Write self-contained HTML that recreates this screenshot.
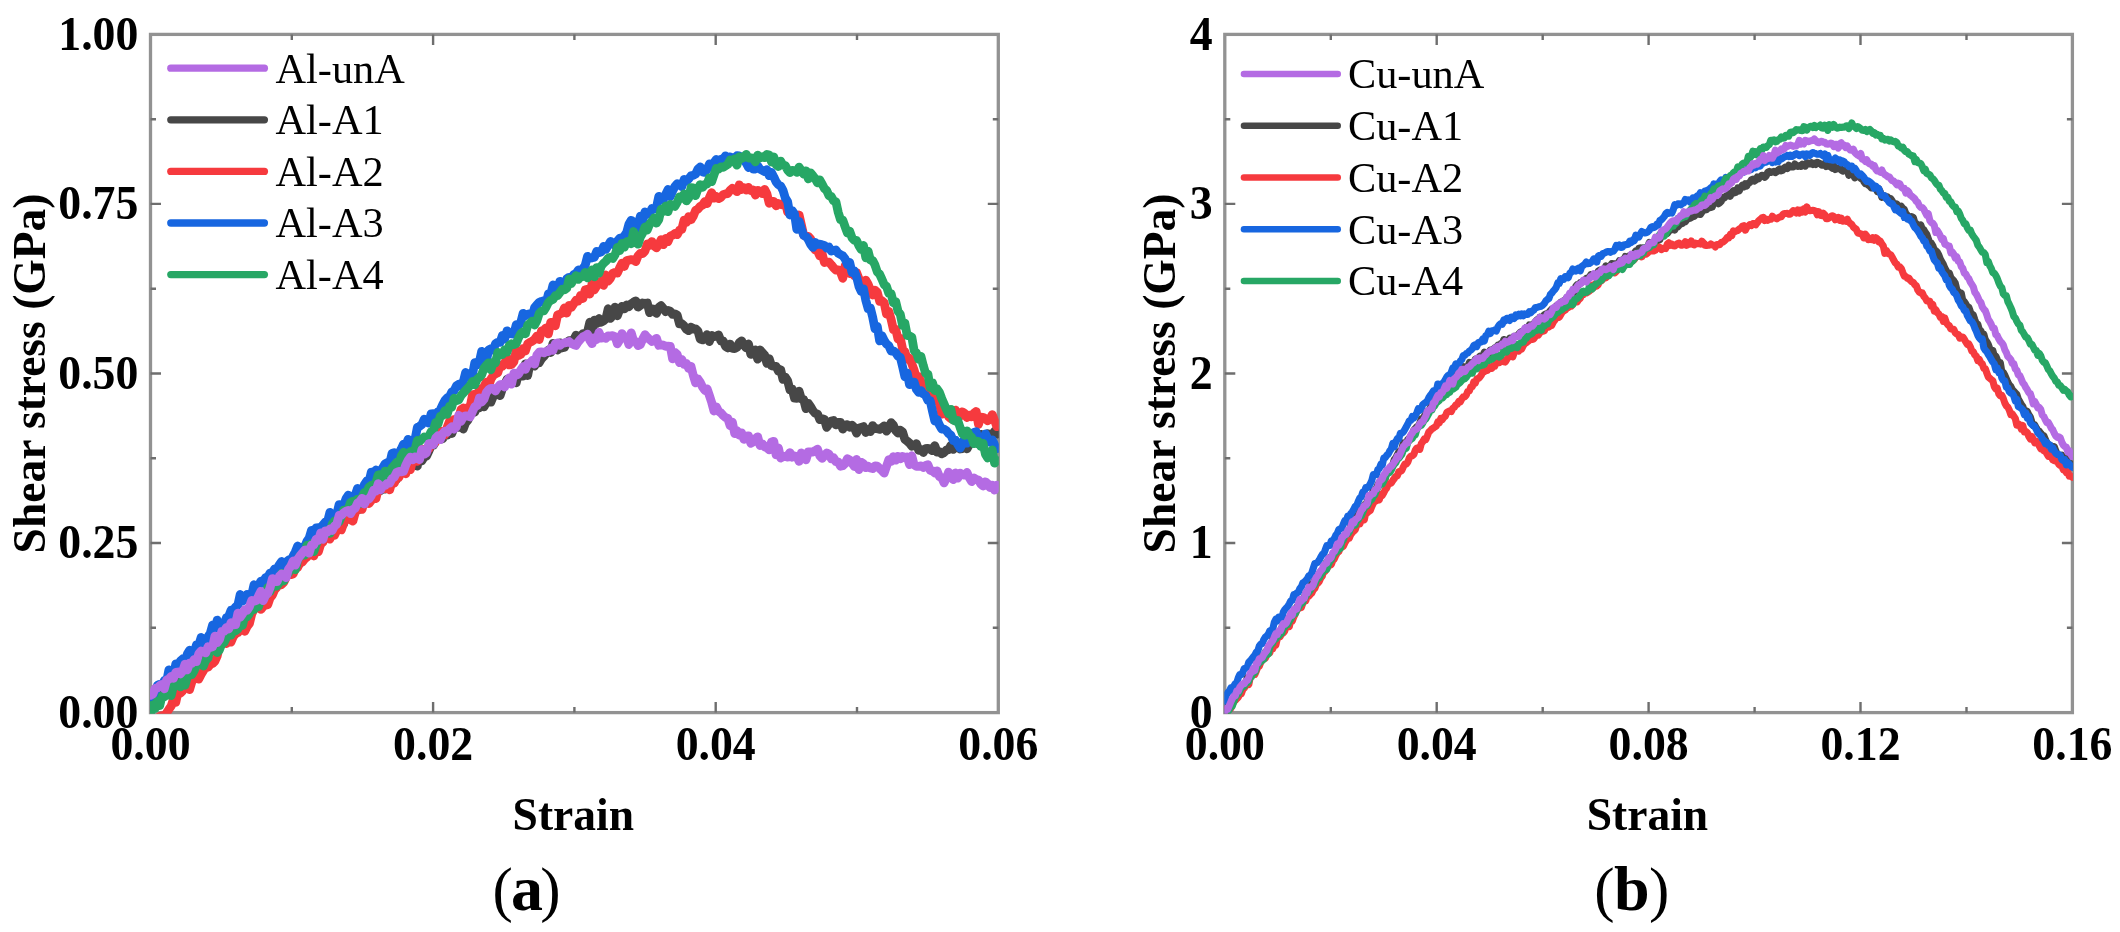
<!DOCTYPE html>
<html lang="en">
<head>
<meta charset="utf-8">
<title>Shear stress-strain curves</title>
<style>
html,body{margin:0;padding:0;background:#fff;}
body{width:2120px;height:932px;overflow:hidden;}
svg{display:block;filter:blur(0.55px);}
text{font-family:"Liberation Serif","Times New Roman",Times,serif;fill:#000;}
.tk text{font-size:45.5px;font-weight:bold;}
.tk text.n{font-size:48.9px;}
.lg text{font-size:42.3px;}
.cap text{font-size:64px;}
.cap .p{font-size:61px;}
</style>
</head>
<body>
<svg width="2120" height="932" viewBox="0 0 2120 932">
<rect width="2120" height="932" fill="#fff"/>
<clipPath id="clip1"><rect x="150.0" y="33.9" width="848.8" height="679.8"/></clipPath>
<rect x="150.5" y="34.4" width="847.8" height="678.2" fill="#fff" stroke="#929292" stroke-width="3.3"/>
<path d="M291.8,712.6v-5.5M291.8,34.4v5.5M433.1,712.6v-10.5M433.1,34.4v10.5M574.4,712.6v-5.5M574.4,34.4v5.5M715.7,712.6v-10.5M715.7,34.4v10.5M857.0,712.6v-5.5M857.0,34.4v5.5M150.5,627.8h5.5M998.3,627.8h-5.5M150.5,543.0h10.5M998.3,543.0h-10.5M150.5,458.3h5.5M998.3,458.3h-5.5M150.5,373.5h10.5M998.3,373.5h-10.5M150.5,288.7h5.5M998.3,288.7h-5.5M150.5,203.9h10.5M998.3,203.9h-10.5M150.5,119.2h5.5M998.3,119.2h-5.5" stroke="#6e6e6e" stroke-width="2.4" fill="none"/>
<g clip-path="url(#clip1)" fill="none" stroke-linejoin="round" stroke-linecap="round" stroke-width="8.8">
<path stroke="#474747" d="M150.5,694.4 152.8,697.3 155.1,697.2 157.4,694.5 159.7,687.9 162.0,691.9 164.3,689.6 166.6,687.1 168.9,685.6 171.2,684.8 173.5,685.6 175.8,674.7 178.1,675.5 180.4,678.7 182.7,668.2 185.0,670.1 187.3,664.9 189.6,664.9 191.9,663.7 194.2,655.2 196.5,656.0 198.8,652.0 201.1,654.1 203.4,650.3 205.7,655.9 208.0,647.5 210.3,652.1 212.6,644.6 214.9,644.5 217.2,641.7 219.5,638.9 221.8,633.5 224.1,635.7 226.4,633.7 228.7,630.9 231.0,629.6 233.3,622.7 235.6,621.7 237.9,619.1 240.2,614.0 242.5,617.2 244.8,612.2 247.1,611.4 249.4,616.4 251.7,608.3 254.0,606.0 256.3,606.5 258.6,603.9 260.9,603.9 263.2,595.0 265.5,599.2 267.8,591.6 270.1,586.1 272.4,584.3 274.7,587.7 277.0,584.2 279.3,583.4 281.6,574.5 283.9,573.9 286.2,569.7 288.5,564.4 290.8,568.1 293.1,571.0 295.4,566.8 297.7,559.2 300.0,563.4 302.3,556.6 304.6,556.8 306.9,555.5 309.2,549.5 311.5,546.4 313.8,549.3 316.1,545.2 318.4,541.5 320.7,542.6 323.0,537.6 325.3,537.6 327.6,532.0 329.9,536.0 332.2,528.5 334.5,528.4 336.8,521.6 339.1,529.6 341.4,524.7 343.7,523.9 346.0,514.9 348.3,518.3 350.6,513.6 352.9,516.4 355.2,505.4 357.5,509.9 359.8,509.2 362.1,500.1 364.4,501.2 366.7,496.0 369.0,497.3 371.3,497.1 373.6,498.0 375.9,492.9 378.2,488.2 380.5,490.6 382.8,487.3 385.1,489.1 387.4,482.5 389.7,486.6 392.0,481.4 394.3,479.2 396.6,479.3 398.9,473.2 401.2,471.7 403.5,472.4 405.8,469.2 408.1,467.5 410.4,464.6 412.7,462.4 415.0,464.5 417.3,466.1 419.6,454.0 421.9,460.8 424.2,457.0 426.5,456.1 428.8,451.1 431.1,445.8 433.4,445.3 435.7,441.1 438.0,436.8 440.3,439.4 442.6,438.7 444.9,435.3 447.2,435.2 449.5,427.6 451.8,433.5 454.1,427.9 456.4,426.6 458.7,427.3 461.0,421.9 463.3,429.0 465.6,422.8 467.9,420.1 470.2,414.9 472.5,410.5 474.8,412.1 477.1,406.8 479.4,407.7 481.7,406.0 484.0,406.8 486.3,402.6 488.6,400.4 490.9,402.2 493.2,396.5 495.5,393.8 497.8,391.9 500.1,395.6 502.4,388.7 504.7,385.0 507.0,379.4 509.3,380.5 511.6,382.9 513.9,380.9 516.2,382.9 518.5,374.0 520.8,375.8 523.1,376.2 525.4,363.8 527.7,375.5 530.0,363.1 532.3,361.6 534.6,366.0 536.9,362.2 539.2,362.7 541.5,358.8 543.8,356.5 546.1,353.6 548.4,350.0 550.7,352.5 553.0,343.4 555.3,348.7 557.6,350.0 559.9,342.8 562.2,347.9 564.5,347.2 566.8,342.5 569.1,340.6 571.4,340.9 573.7,339.7 576.0,335.2 578.3,340.2 580.6,337.2 582.9,333.6 585.2,333.6 587.5,332.0 589.8,322.2 592.1,333.3 594.4,320.2 596.7,323.6 599.0,318.5 601.3,322.1 603.6,320.9 605.9,318.7 608.2,308.7 610.5,318.4 612.8,315.4 615.1,307.2 617.4,315.8 619.7,309.5 622.0,306.4 624.3,308.9 626.6,305.0 628.9,306.7 631.2,303.9 633.5,302.2 635.8,300.9 638.1,307.1 640.4,305.5 642.7,303.0 645.0,303.3 647.3,303.0 649.6,312.7 651.9,308.7 654.2,309.2 656.5,313.4 658.8,307.3 661.1,305.7 663.4,308.6 665.7,311.7 668.0,310.5 670.3,311.2 672.6,314.4 674.9,313.9 677.2,315.2 679.5,323.9 681.8,323.7 684.1,325.8 686.4,329.3 688.7,330.7 691.0,327.1 693.3,329.1 695.6,328.8 697.9,330.9 700.2,339.1 702.5,339.9 704.8,337.8 707.1,334.7 709.4,341.5 711.7,335.4 714.0,336.6 716.3,336.2 718.6,335.0 720.9,340.9 723.2,341.0 725.5,346.4 727.8,348.0 730.1,344.1 732.4,348.3 734.7,348.5 737.0,347.4 739.3,342.7 741.6,340.8 743.9,345.1 746.2,347.8 748.5,344.0 750.8,354.4 753.1,352.7 755.4,350.0 757.7,359.2 760.0,349.9 762.3,352.6 764.6,355.0 766.9,363.3 769.2,358.7 771.5,365.8 773.8,366.0 776.1,366.3 778.4,371.2 780.7,369.7 783.0,379.4 785.3,377.1 787.6,380.6 789.9,389.6 792.2,389.1 794.5,398.2 796.8,398.3 799.1,391.1 801.4,399.1 803.7,399.6 806.0,408.7 808.3,403.4 810.6,406.5 812.9,410.7 815.2,413.3 817.5,413.9 819.8,419.6 822.1,418.6 824.4,419.4 826.7,427.4 829.0,424.0 831.3,421.0 833.6,420.5 835.9,424.8 838.2,422.5 840.5,422.4 842.8,429.1 845.1,425.0 847.4,424.6 849.7,427.2 852.0,425.3 854.3,427.5 856.6,433.1 858.9,428.2 861.2,427.4 863.5,426.6 865.8,432.5 868.1,429.8 870.4,431.6 872.7,425.6 875.0,428.6 877.3,428.7 879.6,429.4 881.9,427.7 884.2,425.8 886.5,431.1 888.8,428.0 891.1,422.6 893.4,425.2 895.7,430.6 898.0,433.2 900.3,430.2 902.6,432.0 904.9,439.5 907.2,441.1 909.5,443.1 911.8,446.3 914.1,445.8 916.4,443.7 918.7,450.3 921.0,449.4 923.3,452.5 925.6,448.7 927.9,448.3 930.2,449.2 932.5,450.7 934.8,445.7 937.1,452.1 939.4,451.6 941.7,453.8 944.0,452.7 946.3,450.1 948.6,449.6 950.9,445.4 953.2,449.4 955.5,446.6 957.8,445.5 960.1,449.0 962.4,448.6 964.7,443.9 967.0,448.8 969.3,444.6 971.6,443.5 973.9,439.5 976.2,439.1 978.5,444.0 980.8,434.3 983.1,443.0 985.4,437.8 987.7,433.6 990.0,439.0 992.3,434.6 994.6,431.3 996.9,434.1"/>
<path stroke="#f63a3e" d="M150.5,725.4 152.8,718.3 155.1,723.8 157.4,721.8 159.7,716.4 162.0,715.7 164.3,717.1 166.6,712.8 168.9,709.3 171.2,706.0 173.5,699.2 175.8,702.4 178.1,691.6 180.4,693.1 182.7,690.8 185.0,684.7 187.3,686.9 189.6,689.6 191.9,681.8 194.2,677.6 196.5,678.3 198.8,679.1 201.1,674.5 203.4,670.7 205.7,664.1 208.0,667.3 210.3,664.4 212.6,663.5 214.9,661.3 217.2,656.0 219.5,645.9 221.8,643.9 224.1,642.8 226.4,643.6 228.7,638.1 231.0,642.2 233.3,636.6 235.6,633.7 237.9,632.6 240.2,629.9 242.5,622.1 244.8,631.3 247.1,626.6 249.4,623.6 251.7,614.1 254.0,609.0 256.3,607.7 258.6,607.0 260.9,609.4 263.2,606.5 265.5,605.2 267.8,604.7 270.1,597.8 272.4,595.1 274.7,589.6 277.0,587.2 279.3,582.4 281.6,584.5 283.9,582.1 286.2,577.4 288.5,573.3 290.8,574.7 293.1,574.1 295.4,568.8 297.7,567.5 300.0,562.6 302.3,562.0 304.6,559.0 306.9,557.3 309.2,553.9 311.5,554.4 313.8,556.0 316.1,547.1 318.4,551.8 320.7,544.3 323.0,542.1 325.3,535.0 327.6,531.6 329.9,539.2 332.2,532.0 334.5,535.3 336.8,530.4 339.1,529.1 341.4,529.8 343.7,523.1 346.0,510.7 348.3,513.3 350.6,519.8 352.9,521.0 355.2,512.9 357.5,509.4 359.8,505.5 362.1,509.4 364.4,500.7 366.7,501.3 369.0,503.5 371.3,500.6 373.6,497.3 375.9,498.6 378.2,489.7 380.5,487.8 382.8,488.3 385.1,488.7 387.4,484.7 389.7,489.8 392.0,481.3 394.3,483.1 396.6,477.1 398.9,477.4 401.2,472.4 403.5,470.0 405.8,473.8 408.1,465.9 410.4,469.7 412.7,459.7 415.0,458.5 417.3,461.4 419.6,448.5 421.9,449.1 424.2,451.7 426.5,450.4 428.8,448.8 431.1,443.8 433.4,437.4 435.7,442.0 438.0,438.4 440.3,431.2 442.6,432.1 444.9,434.8 447.2,427.4 449.5,421.3 451.8,421.5 454.1,419.5 456.4,419.1 458.7,417.8 461.0,409.7 463.3,408.1 465.6,411.0 467.9,407.5 470.2,406.4 472.5,394.8 474.8,394.2 477.1,397.6 479.4,389.5 481.7,390.4 484.0,386.6 486.3,382.1 488.6,386.4 490.9,379.1 493.2,375.5 495.5,373.9 497.8,372.8 500.1,365.2 502.4,366.3 504.7,363.0 507.0,357.8 509.3,364.9 511.6,364.4 513.9,361.6 516.2,350.5 518.5,355.5 520.8,354.4 523.1,348.5 525.4,351.0 527.7,343.9 530.0,342.2 532.3,341.2 534.6,339.3 536.9,336.1 539.2,339.5 541.5,331.0 543.8,330.3 546.1,327.8 548.4,333.9 550.7,322.3 553.0,323.8 555.3,325.8 557.6,314.9 559.9,314.1 562.2,313.0 564.5,307.9 566.8,313.1 569.1,305.5 571.4,307.4 573.7,303.9 576.0,300.2 578.3,300.9 580.6,295.3 582.9,298.5 585.2,289.9 587.5,289.4 589.8,294.1 592.1,283.3 594.4,289.8 596.7,285.9 599.0,283.5 601.3,281.2 603.6,285.3 605.9,275.0 608.2,281.1 610.5,278.2 612.8,273.4 615.1,272.4 617.4,273.1 619.7,267.8 622.0,263.2 624.3,266.5 626.6,260.5 628.9,260.1 631.2,259.7 633.5,260.1 635.8,261.6 638.1,255.7 640.4,253.3 642.7,253.6 645.0,251.0 647.3,243.8 649.6,245.4 651.9,241.6 654.2,246.1 656.5,247.9 658.8,244.4 661.1,239.7 663.4,244.7 665.7,238.5 668.0,241.6 670.3,236.1 672.6,235.2 674.9,233.5 677.2,234.7 679.5,230.2 681.8,229.4 684.1,220.1 686.4,222.4 688.7,216.6 691.0,219.8 693.3,216.2 695.6,210.4 697.9,209.1 700.2,206.4 702.5,205.2 704.8,201.6 707.1,203.6 709.4,197.7 711.7,192.7 714.0,198.2 716.3,196.5 718.6,198.6 720.9,197.3 723.2,194.7 725.5,193.9 727.8,193.6 730.1,190.3 732.4,188.3 734.7,189.6 737.0,191.7 739.3,184.8 741.6,189.6 743.9,187.8 746.2,189.9 748.5,187.5 750.8,190.6 753.1,190.0 755.4,195.0 757.7,190.3 760.0,191.4 762.3,193.7 764.6,189.4 766.9,193.8 769.2,203.3 771.5,201.2 773.8,201.3 776.1,205.8 778.4,203.5 780.7,204.4 783.0,204.9 785.3,202.0 787.6,211.9 789.9,210.3 792.2,214.0 794.5,215.0 796.8,216.8 799.1,215.0 801.4,225.0 803.7,235.3 806.0,236.1 808.3,236.3 810.6,238.7 812.9,245.3 815.2,250.0 817.5,250.9 819.8,256.0 822.1,253.5 824.4,262.5 826.7,261.8 829.0,262.2 831.3,264.8 833.6,267.8 835.9,270.0 838.2,269.8 840.5,271.9 842.8,278.3 845.1,265.9 847.4,265.8 849.7,273.5 852.0,271.8 854.3,275.7 856.6,272.6 858.9,278.5 861.2,283.5 863.5,284.5 865.8,280.1 868.1,284.2 870.4,289.8 872.7,295.0 875.0,290.2 877.3,292.3 879.6,301.2 881.9,300.7 884.2,302.8 886.5,314.2 888.8,311.4 891.1,319.3 893.4,329.5 895.7,329.3 898.0,338.9 900.3,338.2 902.6,348.9 904.9,351.8 907.2,359.0 909.5,358.0 911.8,363.7 914.1,370.0 916.4,378.2 918.7,376.6 921.0,381.5 923.3,391.0 925.6,390.8 927.9,393.9 930.2,394.0 932.5,401.0 934.8,397.2 937.1,399.5 939.4,403.7 941.7,414.2 944.0,413.2 946.3,412.5 948.6,416.6 950.9,418.6 953.2,419.8 955.5,410.1 957.8,417.5 960.1,416.2 962.4,411.8 964.7,413.4 967.0,417.5 969.3,415.3 971.6,416.7 973.9,413.3 976.2,411.5 978.5,424.4 980.8,417.2 983.1,417.3 985.4,418.6 987.7,420.8 990.0,419.1 992.3,414.6 994.6,420.5 996.9,426.7"/>
<path stroke="#1766e0" d="M150.5,698.3 152.8,700.2 155.1,693.9 157.4,685.4 159.7,684.4 162.0,685.5 164.3,680.6 166.6,681.5 168.9,669.8 171.2,679.8 173.5,676.4 175.8,663.9 178.1,664.7 180.4,661.0 182.7,658.9 185.0,661.0 187.3,654.1 189.6,650.2 191.9,652.5 194.2,652.3 196.5,644.8 198.8,645.0 201.1,637.4 203.4,643.1 205.7,644.1 208.0,636.8 210.3,633.1 212.6,625.0 214.9,628.4 217.2,620.1 219.5,626.9 221.8,628.0 224.1,624.1 226.4,617.6 228.7,616.3 231.0,610.2 233.3,610.0 235.6,607.1 237.9,605.0 240.2,594.5 242.5,601.0 244.8,599.9 247.1,594.4 249.4,596.2 251.7,594.9 254.0,584.7 256.3,592.3 258.6,585.4 260.9,581.1 263.2,583.0 265.5,577.6 267.8,577.1 270.1,573.0 272.4,572.5 274.7,568.8 277.0,568.7 279.3,564.8 281.6,561.5 283.9,566.9 286.2,561.9 288.5,560.1 290.8,562.1 293.1,556.1 295.4,551.7 297.7,546.0 300.0,549.7 302.3,547.2 304.6,547.0 306.9,541.3 309.2,538.1 311.5,530.3 313.8,536.6 316.1,527.8 318.4,527.7 320.7,528.8 323.0,524.8 325.3,522.1 327.6,521.5 329.9,512.3 332.2,516.2 334.5,517.2 336.8,514.2 339.1,504.6 341.4,509.7 343.7,505.1 346.0,498.6 348.3,495.1 350.6,497.4 352.9,499.6 355.2,495.2 357.5,488.4 359.8,489.8 362.1,490.3 364.4,484.6 366.7,481.0 369.0,482.1 371.3,472.1 373.6,477.9 375.9,470.0 378.2,472.2 380.5,470.7 382.8,467.8 385.1,463.8 387.4,462.5 389.7,463.4 392.0,453.5 394.3,452.7 396.6,454.4 398.9,453.3 401.2,449.0 403.5,444.1 405.8,445.2 408.1,439.4 410.4,445.3 412.7,441.0 415.0,439.5 417.3,427.5 419.6,426.3 421.9,424.5 424.2,419.2 426.5,419.9 428.8,423.1 431.1,413.9 433.4,413.7 435.7,417.8 438.0,411.7 440.3,409.9 442.6,404.9 444.9,400.5 447.2,397.9 449.5,396.6 451.8,392.0 454.1,390.6 456.4,385.9 458.7,384.2 461.0,386.5 463.3,381.8 465.6,372.5 467.9,373.8 470.2,377.5 472.5,374.5 474.8,362.6 477.1,364.9 479.4,361.8 481.7,351.3 484.0,357.5 486.3,361.5 488.6,350.1 490.9,348.7 493.2,350.2 495.5,343.8 497.8,342.3 500.1,342.4 502.4,335.4 504.7,339.1 507.0,330.8 509.3,333.0 511.6,333.8 513.9,334.1 516.2,324.7 518.5,325.4 520.8,322.3 523.1,313.3 525.4,315.7 527.7,314.3 530.0,313.7 532.3,315.8 534.6,307.5 536.9,304.7 539.2,302.3 541.5,301.4 543.8,300.8 546.1,303.4 548.4,293.8 550.7,294.3 553.0,285.0 555.3,285.7 557.6,289.5 559.9,281.3 562.2,286.3 564.5,287.7 566.8,278.8 569.1,277.3 571.4,278.1 573.7,274.6 576.0,273.6 578.3,270.0 580.6,272.1 582.9,268.7 585.2,265.3 587.5,256.3 589.8,258.2 592.1,257.8 594.4,257.2 596.7,251.4 599.0,252.7 601.3,251.8 603.6,246.4 605.9,249.4 608.2,245.3 610.5,241.4 612.8,243.0 615.1,245.6 617.4,241.0 619.7,238.2 622.0,239.0 624.3,235.9 626.6,232.6 628.9,224.3 631.2,220.3 633.5,221.9 635.8,229.8 638.1,225.3 640.4,216.1 642.7,220.7 645.0,211.9 647.3,214.3 649.6,213.7 651.9,208.5 654.2,208.9 656.5,207.2 658.8,196.4 661.1,199.4 663.4,199.5 665.7,194.4 668.0,189.5 670.3,196.7 672.6,191.1 674.9,186.6 677.2,183.7 679.5,184.4 681.8,186.7 684.1,179.5 686.4,181.2 688.7,178.9 691.0,175.8 693.3,175.2 695.6,174.1 697.9,169.0 700.2,167.0 702.5,171.9 704.8,172.4 707.1,169.2 709.4,163.9 711.7,165.6 714.0,162.5 716.3,159.4 718.6,160.5 720.9,159.3 723.2,161.7 725.5,155.8 727.8,160.8 730.1,156.8 732.4,159.4 734.7,158.2 737.0,155.7 739.3,155.9 741.6,158.4 743.9,160.1 746.2,163.1 748.5,167.6 750.8,165.7 753.1,169.1 755.4,169.0 757.7,165.8 760.0,169.2 762.3,170.4 764.6,171.6 766.9,169.7 769.2,175.7 771.5,172.4 773.8,176.9 776.1,181.9 778.4,184.7 780.7,186.0 783.0,190.3 785.3,197.9 787.6,201.5 789.9,215.0 792.2,210.7 794.5,213.8 796.8,229.3 799.1,221.4 801.4,228.9 803.7,235.4 806.0,236.6 808.3,239.5 810.6,244.3 812.9,247.4 815.2,242.5 817.5,244.5 819.8,244.1 822.1,244.8 824.4,245.4 826.7,248.0 829.0,247.1 831.3,251.1 833.6,250.5 835.9,249.9 838.2,253.2 840.5,254.6 842.8,255.7 845.1,258.9 847.4,264.6 849.7,262.5 852.0,272.5 854.3,270.9 856.6,277.0 858.9,286.3 861.2,291.3 863.5,288.8 865.8,300.3 868.1,308.6 870.4,308.1 872.7,317.3 875.0,328.9 877.3,326.5 879.6,340.9 881.9,335.7 884.2,340.5 886.5,344.0 888.8,345.8 891.1,351.1 893.4,350.9 895.7,352.6 898.0,356.3 900.3,357.3 902.6,366.7 904.9,376.7 907.2,372.9 909.5,384.7 911.8,382.2 914.1,382.2 916.4,389.4 918.7,392.4 921.0,390.6 923.3,393.9 925.6,395.4 927.9,400.3 930.2,400.7 932.5,411.2 934.8,421.0 937.1,419.5 939.4,425.1 941.7,429.0 944.0,429.2 946.3,430.5 948.6,433.5 950.9,435.3 953.2,440.5 955.5,440.1 957.8,444.5 960.1,448.2 962.4,444.1 964.7,438.3 967.0,443.2 969.3,440.1 971.6,437.2 973.9,432.4 976.2,431.7 978.5,441.9 980.8,442.4 983.1,440.9 985.4,433.8 987.7,438.2 990.0,442.3 992.3,439.8 994.6,444.9 996.9,448.6"/>
<path stroke="#27a765" d="M150.5,713.7 152.8,704.9 155.1,708.4 157.4,701.1 159.7,705.6 162.0,696.0 164.3,696.9 166.6,695.1 168.9,688.9 171.2,695.6 173.5,685.8 175.8,685.2 178.1,685.0 180.4,686.8 182.7,679.7 185.0,685.3 187.3,677.1 189.6,674.0 191.9,674.6 194.2,670.5 196.5,665.2 198.8,664.4 201.1,663.9 203.4,666.0 205.7,660.2 208.0,658.0 210.3,646.8 212.6,650.7 214.9,649.0 217.2,652.5 219.5,649.8 221.8,643.8 224.1,642.5 226.4,637.7 228.7,634.1 231.0,635.0 233.3,630.3 235.6,630.8 237.9,629.0 240.2,624.0 242.5,625.3 244.8,616.0 247.1,616.8 249.4,613.8 251.7,604.5 254.0,609.6 256.3,606.6 258.6,606.5 260.9,598.2 263.2,597.9 265.5,596.0 267.8,587.5 270.1,591.4 272.4,584.0 274.7,586.3 277.0,586.1 279.3,582.8 281.6,573.3 283.9,580.9 286.2,574.2 288.5,573.3 290.8,566.0 293.1,563.9 295.4,569.6 297.7,559.7 300.0,555.9 302.3,553.5 304.6,555.2 306.9,545.2 309.2,547.3 311.5,543.6 313.8,551.7 316.1,544.8 318.4,539.1 320.7,538.1 323.0,534.4 325.3,531.5 327.6,530.2 329.9,533.4 332.2,524.1 334.5,521.0 336.8,520.5 339.1,521.8 341.4,516.3 343.7,510.1 346.0,510.9 348.3,508.6 350.6,502.4 352.9,501.3 355.2,503.7 357.5,499.3 359.8,503.7 362.1,497.2 364.4,492.3 366.7,492.2 369.0,487.2 371.3,485.3 373.6,487.7 375.9,482.7 378.2,474.9 380.5,474.7 382.8,478.8 385.1,471.2 387.4,471.3 389.7,473.4 392.0,467.8 394.3,465.4 396.6,462.4 398.9,464.5 401.2,456.1 403.5,452.2 405.8,454.5 408.1,457.1 410.4,451.5 412.7,452.6 415.0,449.6 417.3,440.5 419.6,441.3 421.9,439.1 424.2,437.1 426.5,438.5 428.8,436.2 431.1,431.6 433.4,430.5 435.7,422.5 438.0,424.1 440.3,416.2 442.6,415.6 444.9,410.6 447.2,414.3 449.5,406.5 451.8,407.0 454.1,398.2 456.4,400.7 458.7,399.8 461.0,395.6 463.3,393.1 465.6,390.5 467.9,388.0 470.2,385.4 472.5,381.5 474.8,384.9 477.1,379.3 479.4,377.2 481.7,374.7 484.0,368.2 486.3,365.2 488.6,362.8 490.9,369.8 493.2,362.1 495.5,362.8 497.8,352.4 500.1,354.8 502.4,354.6 504.7,349.7 507.0,352.2 509.3,345.4 511.6,343.8 513.9,344.7 516.2,343.5 518.5,337.9 520.8,333.6 523.1,331.9 525.4,333.8 527.7,325.1 530.0,323.2 532.3,321.1 534.6,325.0 536.9,320.6 539.2,313.5 541.5,311.1 543.8,310.9 546.1,307.2 548.4,302.4 550.7,300.3 553.0,299.4 555.3,295.7 557.6,295.5 559.9,292.5 562.2,289.1 564.5,289.8 566.8,288.2 569.1,279.0 571.4,283.5 573.7,279.1 576.0,275.6 578.3,279.4 580.6,276.5 582.9,276.6 585.2,272.5 587.5,277.9 589.8,272.9 592.1,269.9 594.4,276.9 596.7,267.6 599.0,273.1 601.3,266.0 603.6,263.2 605.9,261.2 608.2,258.2 610.5,257.1 612.8,258.4 615.1,254.7 617.4,247.3 619.7,250.6 622.0,243.4 624.3,247.2 626.6,241.8 628.9,241.2 631.2,243.8 633.5,231.5 635.8,242.4 638.1,244.1 640.4,236.9 642.7,233.0 645.0,226.9 647.3,230.0 649.6,224.1 651.9,221.2 654.2,217.9 656.5,223.1 658.8,219.6 661.1,209.2 663.4,211.5 665.7,206.0 668.0,211.6 670.3,204.3 672.6,205.2 674.9,206.4 677.2,202.4 679.5,196.9 681.8,198.4 684.1,193.9 686.4,200.9 688.7,198.0 691.0,187.6 693.3,187.9 695.6,195.5 697.9,189.1 700.2,184.6 702.5,187.4 704.8,184.5 707.1,183.9 709.4,177.8 711.7,181.7 714.0,174.8 716.3,168.4 718.6,169.1 720.9,166.9 723.2,167.4 725.5,165.9 727.8,164.4 730.1,160.0 732.4,161.7 734.7,158.8 737.0,165.2 739.3,156.7 741.6,158.5 743.9,157.0 746.2,154.4 748.5,158.0 750.8,157.8 753.1,158.3 755.4,161.9 757.7,155.2 760.0,158.1 762.3,156.7 764.6,157.6 766.9,154.4 769.2,155.0 771.5,162.0 773.8,157.0 776.1,164.8 778.4,166.5 780.7,161.1 783.0,165.1 785.3,165.5 787.6,170.0 789.9,172.6 792.2,170.4 794.5,170.6 796.8,172.3 799.1,167.1 801.4,170.6 803.7,174.2 806.0,170.9 808.3,178.8 810.6,172.9 812.9,175.6 815.2,178.6 817.5,182.8 819.8,180.0 822.1,183.9 824.4,188.4 826.7,190.5 829.0,195.8 831.3,196.5 833.6,200.9 835.9,201.6 838.2,212.2 840.5,219.6 842.8,220.1 845.1,226.8 847.4,233.1 849.7,231.1 852.0,237.8 854.3,240.4 856.6,240.5 858.9,245.7 861.2,249.6 863.5,245.5 865.8,257.8 868.1,251.1 870.4,260.1 872.7,260.6 875.0,265.1 877.3,271.9 879.6,274.2 881.9,279.1 884.2,284.7 886.5,286.4 888.8,293.4 891.1,293.7 893.4,302.8 895.7,301.6 898.0,311.1 900.3,314.3 902.6,325.5 904.9,323.2 907.2,335.4 909.5,335.9 911.8,337.1 914.1,350.6 916.4,352.9 918.7,359.4 921.0,356.5 923.3,365.6 925.6,373.3 927.9,374.1 930.2,387.5 932.5,382.8 934.8,390.5 937.1,388.9 939.4,392.2 941.7,398.4 944.0,403.7 946.3,409.1 948.6,413.9 950.9,409.3 953.2,420.0 955.5,421.2 957.8,420.5 960.1,427.5 962.4,433.7 964.7,435.3 967.0,430.9 969.3,435.2 971.6,437.3 973.9,443.7 976.2,441.1 978.5,441.6 980.8,446.3 983.1,443.5 985.4,454.1 987.7,457.9 990.0,456.6 992.3,449.9 994.6,463.2 996.9,460.4"/>
<path stroke="#b46be3" d="M150.5,695.3 152.8,694.1 155.1,688.3 157.4,687.9 159.7,685.8 162.0,684.3 164.3,688.9 166.6,680.1 168.9,679.1 171.2,676.4 173.5,678.4 175.8,672.4 178.1,672.0 180.4,673.8 182.7,671.2 185.0,664.2 187.3,669.9 189.6,663.1 191.9,663.4 194.2,659.4 196.5,661.6 198.8,653.8 201.1,650.9 203.4,652.0 205.7,652.9 208.0,646.8 210.3,647.4 212.6,646.8 214.9,636.1 217.2,642.7 219.5,639.5 221.8,631.4 224.1,631.4 226.4,627.6 228.7,629.0 231.0,622.7 233.3,624.9 235.6,624.7 237.9,613.1 240.2,617.2 242.5,614.0 244.8,609.7 247.1,610.4 249.4,606.9 251.7,600.4 254.0,601.2 256.3,600.6 258.6,595.8 260.9,591.3 263.2,600.7 265.5,595.5 267.8,593.5 270.1,587.7 272.4,578.6 274.7,581.4 277.0,581.7 279.3,576.4 281.6,574.0 283.9,574.4 286.2,577.6 288.5,569.2 290.8,566.3 293.1,561.0 295.4,565.1 297.7,559.3 300.0,555.9 302.3,553.1 304.6,550.1 306.9,549.9 309.2,553.1 311.5,545.1 313.8,544.9 316.1,539.2 318.4,540.4 320.7,532.9 323.0,539.4 325.3,530.9 327.6,531.9 329.9,529.1 332.2,530.5 334.5,526.0 336.8,524.2 339.1,515.5 341.4,515.3 343.7,512.9 346.0,511.2 348.3,510.5 350.6,513.6 352.9,509.5 355.2,508.3 357.5,503.2 359.8,501.6 362.1,498.4 364.4,504.0 366.7,499.5 369.0,498.9 371.3,495.7 373.6,490.1 375.9,491.1 378.2,483.7 380.5,489.8 382.8,486.2 385.1,485.4 387.4,483.3 389.7,483.1 392.0,478.7 394.3,477.1 396.6,472.5 398.9,471.4 401.2,471.8 403.5,471.5 405.8,465.1 408.1,460.3 410.4,457.2 412.7,459.9 415.0,456.9 417.3,458.7 419.6,459.5 421.9,449.5 424.2,454.2 426.5,452.7 428.8,443.7 431.1,443.4 433.4,444.6 435.7,438.1 438.0,435.7 440.3,439.7 442.6,433.8 444.9,431.2 447.2,432.2 449.5,428.8 451.8,426.9 454.1,429.1 456.4,426.9 458.7,415.2 461.0,421.3 463.3,416.8 465.6,415.8 467.9,416.1 470.2,416.9 472.5,411.5 474.8,406.6 477.1,405.7 479.4,397.9 481.7,402.0 484.0,399.2 486.3,392.6 488.6,389.8 490.9,388.3 493.2,388.5 495.5,391.0 497.8,387.3 500.1,384.6 502.4,384.4 504.7,387.0 507.0,381.0 509.3,377.8 511.6,384.2 513.9,373.1 516.2,375.1 518.5,374.1 520.8,370.0 523.1,366.6 525.4,369.4 527.7,363.7 530.0,363.5 532.3,360.4 534.6,364.1 536.9,355.0 539.2,352.2 541.5,351.8 543.8,352.9 546.1,351.5 548.4,351.5 550.7,348.1 553.0,350.4 555.3,343.6 557.6,342.9 559.9,345.3 562.2,343.7 564.5,342.9 566.8,342.4 569.1,341.5 571.4,343.5 573.7,344.6 576.0,345.5 578.3,341.8 580.6,339.1 582.9,336.9 585.2,335.9 587.5,334.1 589.8,340.3 592.1,343.7 594.4,337.6 596.7,339.5 599.0,332.3 601.3,338.2 603.6,337.2 605.9,338.3 608.2,335.8 610.5,336.1 612.8,335.6 615.1,336.7 617.4,343.8 619.7,339.9 622.0,333.6 624.3,337.3 626.6,337.7 628.9,344.5 631.2,332.8 633.5,340.4 635.8,341.6 638.1,345.5 640.4,344.7 642.7,339.1 645.0,334.7 647.3,337.3 649.6,339.4 651.9,341.4 654.2,340.0 656.5,338.3 658.8,345.3 661.1,344.8 663.4,345.2 665.7,346.3 668.0,346.2 670.3,346.4 672.6,358.9 674.9,352.4 677.2,354.3 679.5,362.6 681.8,359.5 684.1,364.3 686.4,363.3 688.7,368.3 691.0,366.4 693.3,375.5 695.6,382.9 697.9,378.9 700.2,382.3 702.5,387.0 704.8,390.3 707.1,388.8 709.4,395.5 711.7,402.5 714.0,411.0 716.3,406.8 718.6,411.2 720.9,412.9 723.2,415.5 725.5,417.5 727.8,418.4 730.1,425.7 732.4,422.2 734.7,433.7 737.0,430.7 739.3,435.1 741.6,432.9 743.9,439.4 746.2,436.2 748.5,435.9 750.8,443.3 753.1,441.9 755.4,438.6 757.7,436.8 760.0,445.5 762.3,443.8 764.6,446.8 766.9,447.7 769.2,449.9 771.5,441.9 773.8,441.3 776.1,454.9 778.4,447.9 780.7,458.1 783.0,456.7 785.3,456.2 787.6,457.1 789.9,452.6 792.2,457.1 794.5,456.0 796.8,456.6 799.1,461.3 801.4,452.9 803.7,456.5 806.0,459.8 808.3,452.0 810.6,451.9 812.9,452.0 815.2,450.6 817.5,449.1 819.8,455.8 822.1,458.4 824.4,455.7 826.7,453.0 829.0,454.2 831.3,458.7 833.6,457.8 835.9,461.6 838.2,461.8 840.5,466.2 842.8,465.7 845.1,463.6 847.4,458.7 849.7,460.1 852.0,463.3 854.3,466.5 856.6,459.5 858.9,469.6 861.2,462.3 863.5,463.8 865.8,467.7 868.1,466.2 870.4,468.0 872.7,468.6 875.0,465.9 877.3,466.2 879.6,468.4 881.9,470.5 884.2,473.1 886.5,466.4 888.8,459.7 891.1,461.4 893.4,456.7 895.7,460.2 898.0,456.3 900.3,458.9 902.6,456.5 904.9,457.7 907.2,456.9 909.5,464.5 911.8,455.7 914.1,464.9 916.4,466.4 918.7,466.3 921.0,465.9 923.3,467.5 925.6,465.4 927.9,464.7 930.2,470.5 932.5,470.9 934.8,472.9 937.1,470.9 939.4,476.6 941.7,477.5 944.0,482.9 946.3,478.4 948.6,472.1 950.9,475.5 953.2,479.6 955.5,473.0 957.8,478.2 960.1,473.1 962.4,474.7 964.7,475.2 967.0,472.5 969.3,477.7 971.6,481.6 973.9,478.0 976.2,479.5 978.5,480.0 980.8,483.9 983.1,486.0 985.4,481.8 987.7,483.6 990.0,487.6 992.3,485.2 994.6,490.1 996.9,485.2"/>
</g>
<g class="tk">
<text class="n" transform="translate(150.5,760) scale(0.936,1)" text-anchor="middle">0.00</text>
<text class="n" transform="translate(433.1,760) scale(0.936,1)" text-anchor="middle">0.02</text>
<text class="n" transform="translate(715.7,760) scale(0.936,1)" text-anchor="middle">0.04</text>
<text class="n" transform="translate(998.3,760) scale(0.936,1)" text-anchor="middle">0.06</text>
<text class="n" transform="translate(138.4,727.9) scale(0.936,1)" text-anchor="end">0.00</text>
<text class="n" transform="translate(138.4,558.3) scale(0.936,1)" text-anchor="end">0.25</text>
<text class="n" transform="translate(138.4,388.8) scale(0.936,1)" text-anchor="end">0.50</text>
<text class="n" transform="translate(138.4,219.2) scale(0.936,1)" text-anchor="end">0.75</text>
<text class="n" transform="translate(138.4,49.7) scale(0.936,1)" text-anchor="end">1.00</text>
<text x="573.3" y="830" text-anchor="middle">Strain</text>
<text transform="translate(44.8,373.5) rotate(-90)" text-anchor="middle">Shear stress (GPa)</text>
</g>
<g class="lg">
<path d="M170.8,68.2H264.4" stroke="#b46be3" stroke-width="7.3" stroke-linecap="round" fill="none"/>
<text x="275.5" y="82.6">Al-unA</text>
<path d="M170.8,119.8H264.4" stroke="#474747" stroke-width="7.3" stroke-linecap="round" fill="none"/>
<text x="275.5" y="134.2">Al-A1</text>
<path d="M170.8,171.4H264.4" stroke="#f63a3e" stroke-width="7.3" stroke-linecap="round" fill="none"/>
<text x="275.5" y="185.8">Al-A2</text>
<path d="M170.8,223.0H264.4" stroke="#1766e0" stroke-width="7.3" stroke-linecap="round" fill="none"/>
<text x="275.5" y="237.4">Al-A3</text>
<path d="M170.8,274.6H264.4" stroke="#27a765" stroke-width="7.3" stroke-linecap="round" fill="none"/>
<text x="275.5" y="289.0">Al-A4</text>
</g>
<g class="cap"><text y="910"><tspan class="p" x="492.4" y="909.6">(</tspan><tspan x="511.1" y="910" font-weight="bold">a</tspan><tspan class="p" x="540.3" y="909.6">)</tspan></text></g>
<clipPath id="clip2"><rect x="1224.3" y="33.9" width="848.6" height="679.8"/></clipPath>
<rect x="1224.8" y="34.4" width="847.6" height="678.2" fill="#fff" stroke="#929292" stroke-width="3.3"/>
<path d="M1330.8,712.6v-5.5M1330.8,34.4v5.5M1436.7,712.6v-10.5M1436.7,34.4v10.5M1542.7,712.6v-5.5M1542.7,34.4v5.5M1648.6,712.6v-10.5M1648.6,34.4v10.5M1754.6,712.6v-5.5M1754.6,34.4v5.5M1860.5,712.6v-10.5M1860.5,34.4v10.5M1966.5,712.6v-5.5M1966.5,34.4v5.5M1224.8,627.8h5.5M2072.4,627.8h-5.5M1224.8,543.0h10.5M2072.4,543.0h-10.5M1224.8,458.3h5.5M2072.4,458.3h-5.5M1224.8,373.5h10.5M2072.4,373.5h-10.5M1224.8,288.7h5.5M2072.4,288.7h-5.5M1224.8,203.9h10.5M2072.4,203.9h-10.5M1224.8,119.2h5.5M2072.4,119.2h-5.5" stroke="#6e6e6e" stroke-width="2.4" fill="none"/>
<g clip-path="url(#clip2)" fill="none" stroke-linejoin="round" stroke-linecap="round" stroke-width="7.1">
<path stroke="#474747" d="M1224.8,712.2 1226.3,708.8 1227.8,706.6 1229.3,705.5 1230.8,704.3 1232.3,701.7 1233.8,698.8 1235.3,695.1 1236.8,694.0 1238.3,692.1 1239.8,692.7 1241.3,686.1 1242.8,687.3 1244.3,683.6 1245.8,682.8 1247.3,677.4 1248.8,677.3 1250.3,676.2 1251.8,673.0 1253.3,671.8 1254.8,668.8 1256.3,666.5 1257.8,662.2 1259.3,660.8 1260.8,658.0 1262.3,656.3 1263.8,658.0 1265.3,651.7 1266.8,650.8 1268.3,648.5 1269.8,646.7 1271.3,644.4 1272.8,638.6 1274.3,639.4 1275.8,635.3 1277.3,633.5 1278.8,634.8 1280.3,630.8 1281.8,627.4 1283.3,625.1 1284.8,624.8 1286.3,619.9 1287.8,622.2 1289.3,618.9 1290.8,616.9 1292.3,615.1 1293.8,612.7 1295.3,611.2 1296.8,606.8 1298.3,605.4 1299.8,601.8 1301.3,603.1 1302.8,598.9 1304.3,597.1 1305.8,593.0 1307.3,591.3 1308.8,588.7 1310.3,585.8 1311.8,583.6 1313.3,583.9 1314.8,579.8 1316.3,578.6 1317.8,576.3 1319.3,573.3 1320.8,571.3 1322.3,571.1 1323.8,568.0 1325.3,564.0 1326.8,561.9 1328.3,560.0 1329.8,557.4 1331.3,558.2 1332.8,554.5 1334.3,554.6 1335.8,548.8 1337.3,546.7 1338.8,548.2 1340.3,541.4 1341.8,540.0 1343.3,537.1 1344.8,535.5 1346.3,533.9 1347.8,532.4 1349.3,530.4 1350.8,526.0 1352.3,524.9 1353.8,520.5 1355.3,520.4 1356.8,515.6 1358.3,517.7 1359.8,510.6 1361.3,511.9 1362.8,508.8 1364.3,505.0 1365.8,506.9 1367.3,500.9 1368.8,502.6 1370.3,497.2 1371.8,495.3 1373.3,490.0 1374.8,489.5 1376.3,488.5 1377.8,484.8 1379.3,482.5 1380.8,480.1 1382.3,479.0 1383.8,476.2 1385.3,478.4 1386.8,471.6 1388.3,471.0 1389.8,469.2 1391.3,466.1 1392.8,464.6 1394.3,459.6 1395.8,457.9 1397.3,454.8 1398.8,451.8 1400.3,452.8 1401.8,449.0 1403.3,442.9 1404.8,444.0 1406.3,443.6 1407.8,439.6 1409.3,438.2 1410.8,436.0 1412.3,433.8 1413.8,430.1 1415.3,428.5 1416.8,426.7 1418.3,426.6 1419.8,423.0 1421.3,418.8 1422.8,420.0 1424.3,416.2 1425.8,413.7 1427.3,411.2 1428.8,411.3 1430.3,407.4 1431.8,405.3 1433.3,404.8 1434.8,401.5 1436.3,398.1 1437.8,394.6 1439.3,396.6 1440.8,396.7 1442.3,390.2 1443.8,388.5 1445.3,387.3 1446.8,387.0 1448.3,385.1 1449.8,381.2 1451.3,381.2 1452.8,381.4 1454.3,377.0 1455.8,378.0 1457.3,373.7 1458.8,372.7 1460.3,372.7 1461.8,370.4 1463.3,366.6 1464.8,369.0 1466.3,366.9 1467.8,367.1 1469.3,362.5 1470.8,365.0 1472.3,362.8 1473.8,364.3 1475.3,359.0 1476.8,358.5 1478.3,358.4 1479.8,356.2 1481.3,357.8 1482.8,356.5 1484.3,352.1 1485.8,353.2 1487.3,354.1 1488.8,352.9 1490.3,350.0 1491.8,350.4 1493.3,349.6 1494.8,347.7 1496.3,347.7 1497.8,345.3 1499.3,346.7 1500.8,343.8 1502.3,345.1 1503.8,339.5 1505.3,341.7 1506.8,341.2 1508.3,340.7 1509.8,338.1 1511.3,339.3 1512.8,337.3 1514.3,336.2 1515.8,336.7 1517.3,335.6 1518.8,334.0 1520.3,332.2 1521.8,331.5 1523.3,331.9 1524.8,330.3 1526.3,327.4 1527.8,328.3 1529.3,324.9 1530.8,325.6 1532.3,324.5 1533.8,323.6 1535.3,321.7 1536.8,319.9 1538.3,322.2 1539.8,317.2 1541.3,317.5 1542.8,317.6 1544.3,314.6 1545.8,313.9 1547.3,314.6 1548.8,312.7 1550.3,310.7 1551.8,309.1 1553.3,308.5 1554.8,310.8 1556.3,305.8 1557.8,305.2 1559.3,306.3 1560.8,302.1 1562.3,301.7 1563.8,300.6 1565.3,300.1 1566.8,297.6 1568.3,299.2 1569.8,295.3 1571.3,294.2 1572.8,291.3 1574.3,292.0 1575.8,286.3 1577.3,284.5 1578.8,284.9 1580.3,282.6 1581.8,282.4 1583.3,281.2 1584.8,280.6 1586.3,278.4 1587.8,277.9 1589.3,277.6 1590.8,274.6 1592.3,274.9 1593.8,274.9 1595.3,276.1 1596.8,273.9 1598.3,271.2 1599.8,270.1 1601.3,270.5 1602.8,270.0 1604.3,270.4 1605.8,265.9 1607.3,268.7 1608.8,266.9 1610.3,265.6 1611.8,263.6 1613.3,263.8 1614.8,263.8 1616.3,264.3 1617.8,263.9 1619.3,260.8 1620.8,262.7 1622.3,259.9 1623.8,260.6 1625.3,256.5 1626.8,258.0 1628.3,256.2 1629.8,255.8 1631.3,255.0 1632.8,255.0 1634.3,253.3 1635.8,250.8 1637.3,251.0 1638.8,248.4 1640.3,247.9 1641.8,251.9 1643.3,248.0 1644.8,248.9 1646.3,247.3 1647.8,246.9 1649.3,242.4 1650.8,244.8 1652.3,245.0 1653.8,243.7 1655.3,241.0 1656.8,241.3 1658.3,237.6 1659.8,239.7 1661.3,235.9 1662.8,233.2 1664.3,234.6 1665.8,232.1 1667.3,233.4 1668.8,231.6 1670.3,230.0 1671.8,229.8 1673.3,227.5 1674.8,230.0 1676.3,226.4 1677.8,226.9 1679.3,225.2 1680.8,221.3 1682.3,223.5 1683.8,221.9 1685.3,221.9 1686.8,219.5 1688.3,218.8 1689.8,218.4 1691.3,217.6 1692.8,216.2 1694.3,216.4 1695.8,214.4 1697.3,211.6 1698.8,214.3 1700.3,214.5 1701.8,212.2 1703.3,209.9 1704.8,210.0 1706.3,209.8 1707.8,208.4 1709.3,207.7 1710.8,207.4 1712.3,207.1 1713.8,201.9 1715.3,202.4 1716.8,202.0 1718.3,203.7 1719.8,202.7 1721.3,201.2 1722.8,197.5 1724.3,198.0 1725.8,196.1 1727.3,195.9 1728.8,193.5 1730.3,196.2 1731.8,192.7 1733.3,190.7 1734.8,192.8 1736.3,192.2 1737.8,187.9 1739.3,190.8 1740.8,187.5 1742.3,185.2 1743.8,186.8 1745.3,183.8 1746.8,185.9 1748.3,183.1 1749.8,182.6 1751.3,180.0 1752.8,179.2 1754.3,181.0 1755.8,180.2 1757.3,177.0 1758.8,178.6 1760.3,176.8 1761.8,175.3 1763.3,175.6 1764.8,177.3 1766.3,175.7 1767.8,172.1 1769.3,171.4 1770.8,172.4 1772.3,172.1 1773.8,171.3 1775.3,172.7 1776.8,171.8 1778.3,169.9 1779.8,168.9 1781.3,170.9 1782.8,170.2 1784.3,167.7 1785.8,166.8 1787.3,168.5 1788.8,165.2 1790.3,167.0 1791.8,166.7 1793.3,167.0 1794.8,164.0 1796.3,165.1 1797.8,166.4 1799.3,165.9 1800.8,166.4 1802.3,164.2 1803.8,165.0 1805.3,166.1 1806.8,162.8 1808.3,163.1 1809.8,164.0 1811.3,162.8 1812.8,164.5 1814.3,163.2 1815.8,164.4 1817.3,162.4 1818.8,163.0 1820.3,163.7 1821.8,165.2 1823.3,165.2 1824.8,163.3 1826.3,166.5 1827.8,165.4 1829.3,166.2 1830.8,167.0 1832.3,168.2 1833.8,165.6 1835.3,169.5 1836.8,168.8 1838.3,168.2 1839.8,167.7 1841.3,170.1 1842.8,171.2 1844.3,170.3 1845.8,169.4 1847.3,169.9 1848.8,175.3 1850.3,172.6 1851.8,174.2 1853.3,174.8 1854.8,177.8 1856.3,176.7 1857.8,173.8 1859.3,176.8 1860.8,178.6 1862.3,177.7 1863.8,181.6 1865.3,183.6 1866.8,182.1 1868.3,185.1 1869.8,186.2 1871.3,187.9 1872.8,187.0 1874.3,187.2 1875.8,187.3 1877.3,191.6 1878.8,188.7 1880.3,191.8 1881.8,197.4 1883.3,196.0 1884.8,195.7 1886.3,198.3 1887.8,197.1 1889.3,199.8 1890.8,198.8 1892.3,201.0 1893.8,204.2 1895.3,206.6 1896.8,204.1 1898.3,206.3 1899.8,207.8 1901.3,206.3 1902.8,208.3 1904.3,209.4 1905.8,213.4 1907.3,215.1 1908.8,217.6 1910.3,218.3 1911.8,216.7 1913.3,217.4 1914.8,222.6 1916.3,223.7 1917.8,225.0 1919.3,226.6 1920.8,225.1 1922.3,229.1 1923.8,229.8 1925.3,232.5 1926.8,234.5 1928.3,238.7 1929.8,242.7 1931.3,243.2 1932.8,245.8 1934.3,250.0 1935.8,250.7 1937.3,252.3 1938.8,255.0 1940.3,259.0 1941.8,261.7 1943.3,264.3 1944.8,268.0 1946.3,270.7 1947.8,272.8 1949.3,273.0 1950.8,277.4 1952.3,279.2 1953.8,280.8 1955.3,283.2 1956.8,289.6 1958.3,291.6 1959.8,294.7 1961.3,293.2 1962.8,300.7 1964.3,301.6 1965.8,304.0 1967.3,306.6 1968.8,307.2 1970.3,311.5 1971.8,314.0 1973.3,315.0 1974.8,319.6 1976.3,323.7 1977.8,324.2 1979.3,329.6 1980.8,330.6 1982.3,334.2 1983.8,334.1 1985.3,339.6 1986.8,341.7 1988.3,344.5 1989.8,348.6 1991.3,352.6 1992.8,350.4 1994.3,355.9 1995.8,356.0 1997.3,359.7 1998.8,363.0 2000.3,362.6 2001.8,371.5 2003.3,372.3 2004.8,375.2 2006.3,378.7 2007.8,382.1 2009.3,385.0 2010.8,386.4 2012.3,389.6 2013.8,391.2 2015.3,392.9 2016.8,394.3 2018.3,399.1 2019.8,401.6 2021.3,404.5 2022.8,406.4 2024.3,411.1 2025.8,410.7 2027.3,411.5 2028.8,414.7 2030.3,417.0 2031.8,421.9 2033.3,425.6 2034.8,425.0 2036.3,428.0 2037.8,430.4 2039.3,431.2 2040.8,433.3 2042.3,435.2 2043.8,435.6 2045.3,439.1 2046.8,442.6 2048.3,444.8 2049.8,445.3 2051.3,445.8 2052.8,449.3 2054.3,446.8 2055.8,451.0 2057.3,454.5 2058.8,456.3 2060.3,455.6 2061.8,455.2 2063.3,458.4 2064.8,457.6 2066.3,458.4 2067.8,463.1 2069.3,463.5 2070.8,463.6 2072.3,465.1"/>
<path stroke="#f63a3e" d="M1224.8,717.4 1226.3,711.7 1227.8,707.6 1229.3,707.1 1230.8,708.5 1232.3,704.5 1233.8,701.7 1235.3,700.4 1236.8,698.7 1238.3,697.2 1239.8,694.2 1241.3,693.8 1242.8,689.5 1244.3,688.0 1245.8,685.2 1247.3,683.9 1248.8,684.5 1250.3,677.0 1251.8,675.1 1253.3,674.1 1254.8,674.5 1256.3,671.0 1257.8,667.2 1259.3,666.3 1260.8,662.3 1262.3,660.3 1263.8,658.8 1265.3,658.4 1266.8,655.1 1268.3,653.4 1269.8,652.7 1271.3,648.6 1272.8,648.8 1274.3,643.4 1275.8,645.3 1277.3,638.8 1278.8,635.5 1280.3,636.4 1281.8,633.6 1283.3,633.1 1284.8,630.9 1286.3,625.6 1287.8,625.4 1289.3,626.6 1290.8,620.3 1292.3,621.0 1293.8,616.8 1295.3,613.9 1296.8,610.5 1298.3,608.6 1299.8,605.4 1301.3,607.6 1302.8,603.3 1304.3,600.4 1305.8,600.8 1307.3,596.0 1308.8,596.2 1310.3,594.4 1311.8,593.1 1313.3,589.8 1314.8,588.6 1316.3,584.5 1317.8,583.3 1319.3,581.5 1320.8,577.9 1322.3,576.2 1323.8,569.5 1325.3,571.1 1326.8,568.9 1328.3,565.9 1329.8,565.3 1331.3,564.5 1332.8,560.6 1334.3,559.0 1335.8,555.4 1337.3,552.9 1338.8,551.6 1340.3,547.8 1341.8,547.4 1343.3,546.4 1344.8,543.0 1346.3,540.5 1347.8,537.7 1349.3,538.1 1350.8,534.5 1352.3,532.5 1353.8,531.1 1355.3,529.7 1356.8,525.0 1358.3,523.8 1359.8,524.0 1361.3,519.6 1362.8,518.8 1364.3,519.7 1365.8,512.6 1367.3,512.7 1368.8,511.4 1370.3,510.5 1371.8,506.6 1373.3,503.2 1374.8,501.6 1376.3,500.9 1377.8,496.9 1379.3,499.9 1380.8,494.3 1382.3,495.4 1383.8,492.7 1385.3,489.7 1386.8,487.9 1388.3,483.8 1389.8,483.5 1391.3,483.1 1392.8,480.5 1394.3,478.5 1395.8,476.5 1397.3,475.8 1398.8,471.7 1400.3,471.3 1401.8,470.5 1403.3,466.9 1404.8,464.1 1406.3,464.0 1407.8,462.1 1409.3,457.8 1410.8,456.1 1412.3,455.7 1413.8,454.5 1415.3,450.3 1416.8,448.0 1418.3,448.2 1419.8,449.3 1421.3,443.7 1422.8,441.7 1424.3,438.9 1425.8,439.6 1427.3,436.0 1428.8,432.0 1430.3,430.8 1431.8,429.0 1433.3,428.1 1434.8,427.0 1436.3,426.0 1437.8,422.0 1439.3,422.8 1440.8,418.5 1442.3,419.6 1443.8,417.3 1445.3,416.3 1446.8,412.5 1448.3,411.5 1449.8,410.9 1451.3,411.6 1452.8,408.2 1454.3,407.3 1455.8,404.9 1457.3,404.2 1458.8,401.4 1460.3,401.9 1461.8,398.9 1463.3,396.8 1464.8,396.9 1466.3,395.0 1467.8,391.3 1469.3,391.1 1470.8,386.8 1472.3,386.7 1473.8,381.8 1475.3,383.1 1476.8,378.8 1478.3,378.5 1479.8,377.2 1481.3,375.2 1482.8,371.6 1484.3,371.6 1485.8,370.7 1487.3,370.5 1488.8,368.2 1490.3,366.9 1491.8,368.3 1493.3,365.8 1494.8,366.2 1496.3,361.4 1497.8,362.5 1499.3,362.7 1500.8,361.2 1502.3,360.6 1503.8,361.8 1505.3,362.1 1506.8,359.5 1508.3,356.9 1509.8,354.9 1511.3,354.1 1512.8,356.8 1514.3,352.4 1515.8,351.0 1517.3,350.3 1518.8,351.1 1520.3,347.3 1521.8,348.9 1523.3,345.6 1524.8,343.5 1526.3,342.8 1527.8,341.6 1529.3,340.3 1530.8,338.4 1532.3,339.5 1533.8,338.9 1535.3,336.6 1536.8,334.2 1538.3,335.1 1539.8,333.0 1541.3,331.1 1542.8,331.3 1544.3,330.9 1545.8,327.1 1547.3,325.3 1548.8,327.1 1550.3,324.0 1551.8,325.2 1553.3,322.1 1554.8,320.3 1556.3,317.7 1557.8,315.8 1559.3,317.2 1560.8,314.7 1562.3,312.1 1563.8,310.9 1565.3,310.0 1566.8,308.0 1568.3,307.6 1569.8,305.4 1571.3,306.2 1572.8,304.1 1574.3,301.4 1575.8,300.4 1577.3,301.8 1578.8,299.6 1580.3,298.3 1581.8,294.4 1583.3,294.7 1584.8,293.1 1586.3,293.0 1587.8,292.2 1589.3,291.1 1590.8,289.7 1592.3,285.2 1593.8,287.5 1595.3,283.8 1596.8,286.0 1598.3,284.6 1599.8,279.6 1601.3,280.8 1602.8,279.2 1604.3,278.1 1605.8,277.7 1607.3,276.4 1608.8,271.6 1610.3,273.2 1611.8,272.1 1613.3,272.3 1614.8,272.8 1616.3,271.4 1617.8,269.2 1619.3,268.0 1620.8,267.1 1622.3,262.3 1623.8,263.5 1625.3,265.1 1626.8,263.7 1628.3,263.3 1629.8,262.1 1631.3,262.0 1632.8,260.1 1634.3,259.5 1635.8,256.8 1637.3,256.0 1638.8,256.1 1640.3,254.3 1641.8,256.8 1643.3,254.4 1644.8,252.8 1646.3,254.1 1647.8,252.8 1649.3,249.2 1650.8,251.0 1652.3,250.7 1653.8,250.9 1655.3,250.3 1656.8,246.9 1658.3,247.4 1659.8,247.3 1661.3,249.6 1662.8,248.7 1664.3,248.0 1665.8,248.5 1667.3,244.0 1668.8,242.8 1670.3,245.2 1671.8,244.1 1673.3,245.8 1674.8,246.0 1676.3,244.4 1677.8,243.4 1679.3,243.1 1680.8,245.2 1682.3,245.1 1683.8,244.3 1685.3,241.6 1686.8,245.3 1688.3,242.6 1689.8,244.0 1691.3,241.0 1692.8,244.4 1694.3,244.9 1695.8,243.2 1697.3,243.8 1698.8,243.4 1700.3,244.0 1701.8,241.1 1703.3,242.5 1704.8,245.3 1706.3,245.5 1707.8,245.2 1709.3,245.2 1710.8,244.0 1712.3,245.0 1713.8,245.2 1715.3,247.0 1716.8,244.5 1718.3,244.5 1719.8,244.7 1721.3,242.3 1722.8,242.3 1724.3,241.1 1725.8,239.5 1727.3,237.4 1728.8,237.9 1730.3,234.5 1731.8,235.6 1733.3,230.8 1734.8,231.8 1736.3,230.9 1737.8,230.5 1739.3,228.9 1740.8,228.4 1742.3,226.3 1743.8,225.6 1745.3,230.2 1746.8,227.4 1748.3,226.0 1749.8,224.6 1751.3,225.6 1752.8,223.6 1754.3,223.5 1755.8,224.7 1757.3,222.7 1758.8,220.5 1760.3,219.4 1761.8,217.9 1763.3,217.4 1764.8,220.6 1766.3,219.2 1767.8,220.3 1769.3,219.4 1770.8,219.3 1772.3,216.3 1773.8,217.6 1775.3,218.1 1776.8,218.8 1778.3,217.7 1779.8,217.0 1781.3,216.7 1782.8,214.5 1784.3,213.5 1785.8,213.5 1787.3,213.4 1788.8,214.3 1790.3,214.3 1791.8,212.2 1793.3,210.5 1794.8,211.1 1796.3,212.9 1797.8,210.0 1799.3,213.0 1800.8,210.3 1802.3,212.0 1803.8,208.9 1805.3,212.0 1806.8,206.8 1808.3,210.2 1809.8,210.7 1811.3,210.5 1812.8,210.4 1814.3,210.5 1815.8,211.4 1817.3,214.7 1818.8,211.6 1820.3,215.2 1821.8,215.6 1823.3,213.2 1824.8,214.7 1826.3,218.7 1827.8,218.6 1829.3,217.7 1830.8,216.4 1832.3,215.7 1833.8,216.4 1835.3,219.8 1836.8,217.9 1838.3,217.4 1839.8,220.3 1841.3,218.2 1842.8,221.2 1844.3,220.6 1845.8,221.3 1847.3,219.2 1848.8,221.9 1850.3,223.5 1851.8,224.5 1853.3,227.0 1854.8,228.3 1856.3,229.3 1857.8,233.0 1859.3,233.4 1860.8,233.9 1862.3,234.4 1863.8,237.9 1865.3,234.1 1866.8,236.0 1868.3,239.6 1869.8,238.2 1871.3,239.4 1872.8,237.7 1874.3,240.2 1875.8,237.7 1877.3,238.8 1878.8,241.9 1880.3,241.2 1881.8,244.0 1883.3,246.0 1884.8,253.3 1886.3,250.4 1887.8,252.8 1889.3,254.1 1890.8,254.9 1892.3,257.3 1893.8,260.3 1895.3,263.0 1896.8,264.1 1898.3,267.2 1899.8,266.9 1901.3,268.6 1902.8,272.6 1904.3,276.2 1905.8,276.5 1907.3,278.4 1908.8,278.0 1910.3,280.4 1911.8,281.7 1913.3,282.4 1914.8,284.7 1916.3,285.7 1917.8,290.0 1919.3,292.1 1920.8,293.0 1922.3,292.8 1923.8,296.3 1925.3,298.0 1926.8,301.0 1928.3,301.0 1929.8,301.3 1931.3,306.1 1932.8,304.6 1934.3,311.2 1935.8,309.7 1937.3,312.7 1938.8,313.9 1940.3,317.2 1941.8,316.6 1943.3,321.3 1944.8,318.0 1946.3,322.7 1947.8,324.8 1949.3,325.8 1950.8,328.9 1952.3,329.1 1953.8,329.3 1955.3,332.8 1956.8,334.1 1958.3,334.4 1959.8,338.1 1961.3,337.2 1962.8,337.0 1964.3,339.3 1965.8,342.0 1967.3,344.5 1968.8,343.9 1970.3,346.8 1971.8,351.0 1973.3,351.7 1974.8,354.9 1976.3,356.2 1977.8,360.7 1979.3,359.4 1980.8,362.8 1982.3,363.9 1983.8,368.4 1985.3,368.5 1986.8,373.1 1988.3,377.0 1989.8,378.3 1991.3,379.6 1992.8,380.6 1994.3,386.7 1995.8,388.9 1997.3,388.2 1998.8,393.9 2000.3,395.9 2001.8,395.3 2003.3,398.5 2004.8,403.0 2006.3,405.8 2007.8,407.2 2009.3,410.1 2010.8,414.6 2012.3,413.9 2013.8,416.2 2015.3,418.4 2016.8,425.1 2018.3,423.9 2019.8,424.8 2021.3,429.2 2022.8,425.5 2024.3,431.9 2025.8,431.4 2027.3,432.5 2028.8,436.4 2030.3,438.9 2031.8,436.5 2033.3,439.2 2034.8,442.9 2036.3,441.2 2037.8,442.2 2039.3,446.0 2040.8,448.7 2042.3,447.2 2043.8,450.8 2045.3,451.2 2046.8,453.7 2048.3,456.3 2049.8,454.4 2051.3,456.8 2052.8,459.8 2054.3,460.6 2055.8,461.1 2057.3,461.6 2058.8,464.3 2060.3,465.6 2061.8,465.8 2063.3,469.8 2064.8,469.3 2066.3,472.6 2067.8,471.8 2069.3,476.3 2070.8,476.1 2072.3,477.3"/>
<path stroke="#1766e0" d="M1224.8,701.1 1226.3,695.4 1227.8,692.6 1229.3,691.2 1230.8,688.0 1232.3,689.1 1233.8,686.2 1235.3,683.7 1236.8,682.6 1238.3,677.8 1239.8,674.5 1241.3,674.6 1242.8,672.2 1244.3,668.4 1245.8,668.1 1247.3,667.0 1248.8,662.1 1250.3,660.8 1251.8,658.8 1253.3,656.8 1254.8,655.1 1256.3,652.3 1257.8,651.0 1259.3,645.9 1260.8,644.1 1262.3,643.6 1263.8,639.6 1265.3,637.2 1266.8,635.9 1268.3,634.1 1269.8,630.8 1271.3,630.2 1272.8,628.8 1274.3,622.4 1275.8,619.3 1277.3,621.1 1278.8,617.1 1280.3,618.2 1281.8,618.0 1283.3,612.1 1284.8,609.6 1286.3,608.0 1287.8,606.3 1289.3,603.9 1290.8,600.8 1292.3,600.3 1293.8,594.6 1295.3,595.5 1296.8,592.8 1298.3,592.3 1299.8,588.6 1301.3,586.9 1302.8,582.9 1304.3,582.1 1305.8,580.6 1307.3,578.8 1308.8,575.7 1310.3,575.4 1311.8,572.9 1313.3,568.2 1314.8,563.6 1316.3,563.0 1317.8,562.3 1319.3,560.0 1320.8,557.0 1322.3,554.4 1323.8,553.9 1325.3,549.8 1326.8,545.6 1328.3,545.8 1329.8,545.6 1331.3,540.7 1332.8,540.8 1334.3,538.6 1335.8,535.3 1337.3,533.4 1338.8,529.6 1340.3,528.7 1341.8,528.3 1343.3,524.2 1344.8,520.7 1346.3,521.7 1347.8,516.0 1349.3,517.9 1350.8,513.5 1352.3,511.8 1353.8,509.1 1355.3,506.3 1356.8,505.2 1358.3,501.3 1359.8,498.1 1361.3,496.9 1362.8,492.1 1364.3,492.0 1365.8,487.6 1367.3,487.7 1368.8,486.3 1370.3,483.7 1371.8,480.5 1373.3,474.5 1374.8,474.8 1376.3,474.8 1377.8,469.7 1379.3,468.6 1380.8,464.4 1382.3,465.1 1383.8,457.9 1385.3,457.5 1386.8,455.3 1388.3,454.0 1389.8,450.9 1391.3,448.9 1392.8,443.4 1394.3,446.7 1395.8,442.0 1397.3,438.6 1398.8,438.9 1400.3,433.3 1401.8,433.2 1403.3,432.0 1404.8,429.4 1406.3,426.7 1407.8,424.1 1409.3,420.8 1410.8,420.6 1412.3,416.5 1413.8,418.0 1415.3,415.8 1416.8,412.7 1418.3,408.7 1419.8,410.4 1421.3,408.8 1422.8,404.5 1424.3,403.4 1425.8,402.3 1427.3,400.9 1428.8,397.7 1430.3,395.3 1431.8,393.6 1433.3,391.0 1434.8,392.5 1436.3,390.9 1437.8,384.0 1439.3,384.4 1440.8,385.4 1442.3,383.5 1443.8,382.3 1445.3,379.6 1446.8,376.9 1448.3,375.3 1449.8,375.0 1451.3,372.2 1452.8,367.8 1454.3,368.3 1455.8,363.9 1457.3,365.8 1458.8,363.5 1460.3,361.1 1461.8,359.6 1463.3,355.4 1464.8,355.2 1466.3,353.6 1467.8,353.0 1469.3,351.1 1470.8,350.1 1472.3,348.7 1473.8,345.4 1475.3,344.7 1476.8,346.6 1478.3,342.7 1479.8,342.2 1481.3,341.9 1482.8,339.0 1484.3,341.0 1485.8,335.6 1487.3,334.6 1488.8,331.2 1490.3,333.6 1491.8,330.8 1493.3,330.9 1494.8,329.8 1496.3,331.0 1497.8,327.2 1499.3,324.8 1500.8,323.7 1502.3,324.3 1503.8,319.8 1505.3,320.7 1506.8,318.4 1508.3,318.3 1509.8,320.4 1511.3,317.1 1512.8,317.0 1514.3,318.4 1515.8,314.9 1517.3,316.2 1518.8,314.2 1520.3,315.7 1521.8,314.0 1523.3,315.8 1524.8,313.9 1526.3,314.2 1527.8,314.4 1529.3,311.7 1530.8,312.8 1532.3,311.0 1533.8,310.2 1535.3,307.6 1536.8,307.6 1538.3,306.9 1539.8,306.6 1541.3,306.2 1542.8,305.1 1544.3,303.6 1545.8,300.9 1547.3,299.5 1548.8,298.7 1550.3,294.6 1551.8,293.1 1553.3,291.0 1554.8,289.5 1556.3,287.2 1557.8,282.9 1559.3,283.4 1560.8,278.6 1562.3,279.0 1563.8,279.4 1565.3,276.5 1566.8,276.3 1568.3,277.7 1569.8,273.3 1571.3,272.3 1572.8,268.9 1574.3,270.7 1575.8,271.1 1577.3,268.9 1578.8,268.0 1580.3,270.8 1581.8,266.4 1583.3,265.3 1584.8,264.2 1586.3,261.9 1587.8,263.6 1589.3,263.5 1590.8,262.5 1592.3,261.3 1593.8,258.7 1595.3,258.6 1596.8,262.1 1598.3,256.0 1599.8,255.3 1601.3,256.2 1602.8,253.7 1604.3,253.2 1605.8,252.4 1607.3,251.5 1608.8,251.6 1610.3,252.3 1611.8,251.2 1613.3,251.3 1614.8,249.3 1616.3,245.4 1617.8,247.1 1619.3,245.0 1620.8,247.4 1622.3,247.2 1623.8,245.0 1625.3,244.6 1626.8,244.6 1628.3,244.2 1629.8,241.2 1631.3,242.5 1632.8,239.9 1634.3,240.7 1635.8,235.2 1637.3,237.1 1638.8,237.3 1640.3,234.1 1641.8,231.5 1643.3,232.4 1644.8,233.0 1646.3,232.8 1647.8,231.9 1649.3,230.3 1650.8,227.4 1652.3,226.6 1653.8,227.7 1655.3,226.9 1656.8,224.2 1658.3,225.0 1659.8,220.5 1661.3,219.8 1662.8,218.2 1664.3,216.5 1665.8,213.7 1667.3,212.3 1668.8,213.3 1670.3,212.5 1671.8,213.0 1673.3,209.5 1674.8,204.6 1676.3,205.4 1677.8,203.9 1679.3,203.9 1680.8,204.8 1682.3,203.5 1683.8,202.9 1685.3,199.5 1686.8,200.2 1688.3,199.9 1689.8,202.0 1691.3,200.6 1692.8,198.0 1694.3,198.7 1695.8,197.2 1697.3,195.9 1698.8,195.4 1700.3,192.8 1701.8,196.2 1703.3,193.7 1704.8,191.1 1706.3,191.0 1707.8,189.9 1709.3,189.2 1710.8,187.7 1712.3,189.3 1713.8,183.9 1715.3,186.7 1716.8,184.0 1718.3,184.6 1719.8,181.4 1721.3,179.8 1722.8,180.6 1724.3,182.4 1725.8,177.5 1727.3,179.3 1728.8,179.7 1730.3,177.6 1731.8,176.0 1733.3,178.3 1734.8,175.1 1736.3,175.4 1737.8,173.8 1739.3,173.2 1740.8,171.1 1742.3,169.9 1743.8,172.0 1745.3,170.0 1746.8,170.0 1748.3,167.5 1749.8,169.7 1751.3,169.6 1752.8,167.8 1754.3,165.0 1755.8,167.7 1757.3,163.8 1758.8,166.1 1760.3,166.1 1761.8,162.8 1763.3,163.1 1764.8,161.8 1766.3,162.1 1767.8,161.1 1769.3,160.2 1770.8,159.7 1772.3,162.5 1773.8,161.4 1775.3,162.1 1776.8,159.7 1778.3,161.6 1779.8,157.9 1781.3,159.0 1782.8,158.2 1784.3,156.8 1785.8,156.5 1787.3,155.4 1788.8,156.6 1790.3,155.2 1791.8,156.5 1793.3,155.7 1794.8,154.4 1796.3,153.6 1797.8,154.2 1799.3,155.7 1800.8,154.8 1802.3,154.1 1803.8,154.0 1805.3,156.6 1806.8,153.9 1808.3,154.3 1809.8,155.5 1811.3,153.8 1812.8,152.5 1814.3,153.3 1815.8,153.6 1817.3,154.3 1818.8,154.2 1820.3,153.4 1821.8,154.9 1823.3,156.0 1824.8,153.9 1826.3,159.0 1827.8,155.3 1829.3,159.6 1830.8,159.7 1832.3,160.1 1833.8,160.1 1835.3,158.0 1836.8,159.1 1838.3,161.3 1839.8,159.9 1841.3,162.9 1842.8,161.0 1844.3,161.9 1845.8,164.3 1847.3,164.6 1848.8,166.6 1850.3,166.3 1851.8,166.0 1853.3,169.8 1854.8,168.3 1856.3,170.5 1857.8,173.6 1859.3,175.1 1860.8,173.9 1862.3,175.4 1863.8,177.3 1865.3,179.6 1866.8,181.5 1868.3,180.9 1869.8,181.9 1871.3,183.2 1872.8,184.9 1874.3,188.2 1875.8,186.2 1877.3,187.8 1878.8,188.6 1880.3,192.9 1881.8,195.4 1883.3,195.4 1884.8,195.9 1886.3,198.8 1887.8,200.3 1889.3,202.6 1890.8,203.6 1892.3,203.5 1893.8,206.5 1895.3,209.8 1896.8,208.2 1898.3,211.0 1899.8,212.3 1901.3,213.6 1902.8,211.8 1904.3,217.5 1905.8,216.7 1907.3,218.9 1908.8,217.8 1910.3,220.6 1911.8,221.3 1913.3,224.8 1914.8,227.6 1916.3,228.9 1917.8,230.9 1919.3,233.2 1920.8,236.2 1922.3,237.7 1923.8,240.9 1925.3,241.4 1926.8,246.2 1928.3,247.3 1929.8,250.9 1931.3,250.8 1932.8,256.0 1934.3,260.0 1935.8,261.7 1937.3,263.0 1938.8,268.4 1940.3,267.7 1941.8,271.6 1943.3,273.9 1944.8,275.8 1946.3,280.0 1947.8,280.0 1949.3,285.4 1950.8,287.9 1952.3,289.2 1953.8,292.5 1955.3,293.5 1956.8,296.1 1958.3,300.3 1959.8,302.4 1961.3,306.0 1962.8,306.8 1964.3,310.5 1965.8,310.5 1967.3,315.4 1968.8,318.0 1970.3,320.9 1971.8,321.6 1973.3,324.1 1974.8,328.1 1976.3,331.2 1977.8,335.2 1979.3,338.0 1980.8,339.7 1982.3,339.0 1983.8,347.9 1985.3,350.2 1986.8,351.7 1988.3,354.6 1989.8,356.8 1991.3,359.6 1992.8,362.0 1994.3,363.8 1995.8,369.7 1997.3,368.0 1998.8,372.6 2000.3,372.1 2001.8,377.9 2003.3,380.5 2004.8,380.8 2006.3,387.3 2007.8,387.7 2009.3,391.7 2010.8,393.1 2012.3,393.1 2013.8,396.0 2015.3,401.0 2016.8,399.3 2018.3,406.5 2019.8,407.3 2021.3,408.4 2022.8,410.0 2024.3,414.6 2025.8,412.8 2027.3,418.3 2028.8,416.7 2030.3,422.7 2031.8,424.5 2033.3,425.5 2034.8,426.8 2036.3,429.4 2037.8,432.8 2039.3,434.6 2040.8,435.6 2042.3,438.8 2043.8,440.3 2045.3,443.5 2046.8,442.5 2048.3,445.3 2049.8,444.8 2051.3,449.2 2052.8,447.9 2054.3,451.0 2055.8,453.3 2057.3,454.4 2058.8,454.4 2060.3,455.6 2061.8,459.5 2063.3,460.5 2064.8,459.8 2066.3,464.8 2067.8,462.5 2069.3,464.2 2070.8,466.0 2072.3,467.2"/>
<path stroke="#27a765" d="M1224.8,713.5 1226.3,711.8 1227.8,711.3 1229.3,709.9 1230.8,704.1 1232.3,706.1 1233.8,701.9 1235.3,697.4 1236.8,695.2 1238.3,693.8 1239.8,691.1 1241.3,687.8 1242.8,684.8 1244.3,686.2 1245.8,681.5 1247.3,682.7 1248.8,681.4 1250.3,676.1 1251.8,676.4 1253.3,671.4 1254.8,672.5 1256.3,669.0 1257.8,663.8 1259.3,663.0 1260.8,661.6 1262.3,660.2 1263.8,659.2 1265.3,652.5 1266.8,652.5 1268.3,654.2 1269.8,647.3 1271.3,644.4 1272.8,643.2 1274.3,638.9 1275.8,639.2 1277.3,636.7 1278.8,635.9 1280.3,634.2 1281.8,633.0 1283.3,627.9 1284.8,627.2 1286.3,622.7 1287.8,624.5 1289.3,621.3 1290.8,619.2 1292.3,615.9 1293.8,614.1 1295.3,613.6 1296.8,609.9 1298.3,608.1 1299.8,605.1 1301.3,603.5 1302.8,602.6 1304.3,598.5 1305.8,596.4 1307.3,593.8 1308.8,592.3 1310.3,590.4 1311.8,587.3 1313.3,585.5 1314.8,584.6 1316.3,580.5 1317.8,578.4 1319.3,577.9 1320.8,574.6 1322.3,573.1 1323.8,568.8 1325.3,567.7 1326.8,569.2 1328.3,564.7 1329.8,561.7 1331.3,560.0 1332.8,556.2 1334.3,553.9 1335.8,552.6 1337.3,551.3 1338.8,545.1 1340.3,548.5 1341.8,542.1 1343.3,540.3 1344.8,535.4 1346.3,534.6 1347.8,533.9 1349.3,532.1 1350.8,527.6 1352.3,525.3 1353.8,523.7 1355.3,525.0 1356.8,520.2 1358.3,519.8 1359.8,516.4 1361.3,515.9 1362.8,512.2 1364.3,508.4 1365.8,505.4 1367.3,505.8 1368.8,502.8 1370.3,500.5 1371.8,499.5 1373.3,496.2 1374.8,494.8 1376.3,490.7 1377.8,487.7 1379.3,485.7 1380.8,483.9 1382.3,484.1 1383.8,480.7 1385.3,477.8 1386.8,473.8 1388.3,472.4 1389.8,472.6 1391.3,470.0 1392.8,466.7 1394.3,464.2 1395.8,462.7 1397.3,459.5 1398.8,458.3 1400.3,456.3 1401.8,454.5 1403.3,450.4 1404.8,447.1 1406.3,448.2 1407.8,442.6 1409.3,440.6 1410.8,439.4 1412.3,438.3 1413.8,435.5 1415.3,434.9 1416.8,429.3 1418.3,427.2 1419.8,425.8 1421.3,425.4 1422.8,423.1 1424.3,419.9 1425.8,419.1 1427.3,416.4 1428.8,413.6 1430.3,410.9 1431.8,410.1 1433.3,407.0 1434.8,405.7 1436.3,402.7 1437.8,401.7 1439.3,400.5 1440.8,398.4 1442.3,398.2 1443.8,396.4 1445.3,394.6 1446.8,394.7 1448.3,390.4 1449.8,392.3 1451.3,387.1 1452.8,389.2 1454.3,388.2 1455.8,387.3 1457.3,384.3 1458.8,383.5 1460.3,382.2 1461.8,380.4 1463.3,379.4 1464.8,378.7 1466.3,377.2 1467.8,374.9 1469.3,373.7 1470.8,372.8 1472.3,373.2 1473.8,369.0 1475.3,368.2 1476.8,368.9 1478.3,366.6 1479.8,364.9 1481.3,365.4 1482.8,365.1 1484.3,364.5 1485.8,360.7 1487.3,360.7 1488.8,360.5 1490.3,359.8 1491.8,359.2 1493.3,357.9 1494.8,356.4 1496.3,354.8 1497.8,355.4 1499.3,357.1 1500.8,355.9 1502.3,353.8 1503.8,351.1 1505.3,350.8 1506.8,351.9 1508.3,348.0 1509.8,347.8 1511.3,348.4 1512.8,344.6 1514.3,347.1 1515.8,344.7 1517.3,347.6 1518.8,344.0 1520.3,343.3 1521.8,341.8 1523.3,342.2 1524.8,338.9 1526.3,338.4 1527.8,336.0 1529.3,333.7 1530.8,334.2 1532.3,333.2 1533.8,331.3 1535.3,329.9 1536.8,330.4 1538.3,329.3 1539.8,327.7 1541.3,330.3 1542.8,325.6 1544.3,326.0 1545.8,321.8 1547.3,324.1 1548.8,320.5 1550.3,319.0 1551.8,317.7 1553.3,316.8 1554.8,314.8 1556.3,312.8 1557.8,312.6 1559.3,310.5 1560.8,310.4 1562.3,309.3 1563.8,307.3 1565.3,307.5 1566.8,306.2 1568.3,305.1 1569.8,302.8 1571.3,299.9 1572.8,304.6 1574.3,300.9 1575.8,298.6 1577.3,298.5 1578.8,296.9 1580.3,295.2 1581.8,291.8 1583.3,291.1 1584.8,292.5 1586.3,292.2 1587.8,291.3 1589.3,286.6 1590.8,288.0 1592.3,289.0 1593.8,285.9 1595.3,284.9 1596.8,283.3 1598.3,279.0 1599.8,281.4 1601.3,280.4 1602.8,278.3 1604.3,276.5 1605.8,275.9 1607.3,275.7 1608.8,275.7 1610.3,273.4 1611.8,273.1 1613.3,271.8 1614.8,270.1 1616.3,268.6 1617.8,269.6 1619.3,268.0 1620.8,267.7 1622.3,269.5 1623.8,266.7 1625.3,263.0 1626.8,264.5 1628.3,262.9 1629.8,264.3 1631.3,261.2 1632.8,260.9 1634.3,258.7 1635.8,257.4 1637.3,253.2 1638.8,255.7 1640.3,255.7 1641.8,251.5 1643.3,253.2 1644.8,247.9 1646.3,249.0 1647.8,247.9 1649.3,247.7 1650.8,245.9 1652.3,242.6 1653.8,244.8 1655.3,239.4 1656.8,238.5 1658.3,237.5 1659.8,234.2 1661.3,234.3 1662.8,234.4 1664.3,235.9 1665.8,234.0 1667.3,230.5 1668.8,229.4 1670.3,224.1 1671.8,226.2 1673.3,226.3 1674.8,221.9 1676.3,223.2 1677.8,218.5 1679.3,219.0 1680.8,218.2 1682.3,217.8 1683.8,216.4 1685.3,216.7 1686.8,214.4 1688.3,212.1 1689.8,210.5 1691.3,208.6 1692.8,208.1 1694.3,204.9 1695.8,203.6 1697.3,205.3 1698.8,203.9 1700.3,202.9 1701.8,200.0 1703.3,200.2 1704.8,196.1 1706.3,198.3 1707.8,196.7 1709.3,196.1 1710.8,193.7 1712.3,192.2 1713.8,188.9 1715.3,191.1 1716.8,188.1 1718.3,185.9 1719.8,185.6 1721.3,185.7 1722.8,185.7 1724.3,181.3 1725.8,178.4 1727.3,178.4 1728.8,177.5 1730.3,175.6 1731.8,175.3 1733.3,172.8 1734.8,171.7 1736.3,171.6 1737.8,166.9 1739.3,167.6 1740.8,167.0 1742.3,163.8 1743.8,163.0 1745.3,162.5 1746.8,162.5 1748.3,156.3 1749.8,158.1 1751.3,156.3 1752.8,151.2 1754.3,154.2 1755.8,151.7 1757.3,154.9 1758.8,153.4 1760.3,148.6 1761.8,150.3 1763.3,147.1 1764.8,147.0 1766.3,147.4 1767.8,145.6 1769.3,144.6 1770.8,140.2 1772.3,140.2 1773.8,139.9 1775.3,141.9 1776.8,141.4 1778.3,139.6 1779.8,139.2 1781.3,136.9 1782.8,138.2 1784.3,138.0 1785.8,135.2 1787.3,135.2 1788.8,136.1 1790.3,132.2 1791.8,132.0 1793.3,132.6 1794.8,131.3 1796.3,129.5 1797.8,130.1 1799.3,129.7 1800.8,130.5 1802.3,130.7 1803.8,126.7 1805.3,127.2 1806.8,130.1 1808.3,127.7 1809.8,126.7 1811.3,126.2 1812.8,127.4 1814.3,125.4 1815.8,127.5 1817.3,126.4 1818.8,126.2 1820.3,125.1 1821.8,128.0 1823.3,128.1 1824.8,125.2 1826.3,126.7 1827.8,130.4 1829.3,124.6 1830.8,125.4 1832.3,127.2 1833.8,124.5 1835.3,126.9 1836.8,128.1 1838.3,128.0 1839.8,127.1 1841.3,127.5 1842.8,127.1 1844.3,127.1 1845.8,126.1 1847.3,125.8 1848.8,128.6 1850.3,126.2 1851.8,122.9 1853.3,126.2 1854.8,126.8 1856.3,128.5 1857.8,126.6 1859.3,127.5 1860.8,128.7 1862.3,130.3 1863.8,130.4 1865.3,129.4 1866.8,131.5 1868.3,130.2 1869.8,129.4 1871.3,131.0 1872.8,133.4 1874.3,132.7 1875.8,135.0 1877.3,134.3 1878.8,135.7 1880.3,135.4 1881.8,138.8 1883.3,138.3 1884.8,140.1 1886.3,139.7 1887.8,139.3 1889.3,141.1 1890.8,139.9 1892.3,141.2 1893.8,141.9 1895.3,141.4 1896.8,142.4 1898.3,146.1 1899.8,146.2 1901.3,148.1 1902.8,147.2 1904.3,150.2 1905.8,151.8 1907.3,151.6 1908.8,154.0 1910.3,154.8 1911.8,156.0 1913.3,155.9 1914.8,161.6 1916.3,159.6 1917.8,162.7 1919.3,162.9 1920.8,163.7 1922.3,166.7 1923.8,170.9 1925.3,169.2 1926.8,173.5 1928.3,174.1 1929.8,174.7 1931.3,177.7 1932.8,178.7 1934.3,180.4 1935.8,182.9 1937.3,184.7 1938.8,185.1 1940.3,189.1 1941.8,190.5 1943.3,193.0 1944.8,193.4 1946.3,197.4 1947.8,197.2 1949.3,201.4 1950.8,201.8 1952.3,205.0 1953.8,206.7 1955.3,206.9 1956.8,211.6 1958.3,211.2 1959.8,214.2 1961.3,218.4 1962.8,220.4 1964.3,223.8 1965.8,223.7 1967.3,227.7 1968.8,230.4 1970.3,230.0 1971.8,233.9 1973.3,236.2 1974.8,238.3 1976.3,240.4 1977.8,245.1 1979.3,247.1 1980.8,249.7 1982.3,252.3 1983.8,252.5 1985.3,254.6 1986.8,262.5 1988.3,261.5 1989.8,265.7 1991.3,268.4 1992.8,272.6 1994.3,273.2 1995.8,275.4 1997.3,278.6 1998.8,282.7 2000.3,286.1 2001.8,287.7 2003.3,293.8 2004.8,295.6 2006.3,295.6 2007.8,301.5 2009.3,304.4 2010.8,307.7 2012.3,311.4 2013.8,316.4 2015.3,317.9 2016.8,321.3 2018.3,323.9 2019.8,325.0 2021.3,330.3 2022.8,331.9 2024.3,334.6 2025.8,337.1 2027.3,337.6 2028.8,340.5 2030.3,344.2 2031.8,344.2 2033.3,347.1 2034.8,350.4 2036.3,350.4 2037.8,355.3 2039.3,353.5 2040.8,355.9 2042.3,360.3 2043.8,362.2 2045.3,362.6 2046.8,365.9 2048.3,369.5 2049.8,370.9 2051.3,373.9 2052.8,376.4 2054.3,378.1 2055.8,381.4 2057.3,381.9 2058.8,385.3 2060.3,385.5 2061.8,387.7 2063.3,390.2 2064.8,389.4 2066.3,391.0 2067.8,392.0 2069.3,395.1 2070.8,396.9 2072.3,396.4"/>
<path stroke="#b46be3" d="M1224.8,711.9 1226.3,708.5 1227.8,709.1 1229.3,705.6 1230.8,702.0 1232.3,698.5 1233.8,696.4 1235.3,695.8 1236.8,690.8 1238.3,691.1 1239.8,687.3 1241.3,685.4 1242.8,683.8 1244.3,683.7 1245.8,681.1 1247.3,680.5 1248.8,677.2 1250.3,672.9 1251.8,672.2 1253.3,668.4 1254.8,670.4 1256.3,663.4 1257.8,663.0 1259.3,658.7 1260.8,658.4 1262.3,657.3 1263.8,654.4 1265.3,652.4 1266.8,650.5 1268.3,646.1 1269.8,644.1 1271.3,642.3 1272.8,640.4 1274.3,637.1 1275.8,633.7 1277.3,634.4 1278.8,630.8 1280.3,630.8 1281.8,627.1 1283.3,623.8 1284.8,624.5 1286.3,623.0 1287.8,619.6 1289.3,616.8 1290.8,613.2 1292.3,615.2 1293.8,609.3 1295.3,609.6 1296.8,609.0 1298.3,604.1 1299.8,599.4 1301.3,601.0 1302.8,598.7 1304.3,598.3 1305.8,592.3 1307.3,592.8 1308.8,587.0 1310.3,587.5 1311.8,587.1 1313.3,584.6 1314.8,580.4 1316.3,577.3 1317.8,575.8 1319.3,572.7 1320.8,570.6 1322.3,569.0 1323.8,565.1 1325.3,564.1 1326.8,562.9 1328.3,558.4 1329.8,559.1 1331.3,557.2 1332.8,552.6 1334.3,551.6 1335.8,548.7 1337.3,543.8 1338.8,545.3 1340.3,542.7 1341.8,537.7 1343.3,536.6 1344.8,534.0 1346.3,534.3 1347.8,530.1 1349.3,529.5 1350.8,526.8 1352.3,521.6 1353.8,523.0 1355.3,519.5 1356.8,518.6 1358.3,517.5 1359.8,513.5 1361.3,510.2 1362.8,508.6 1364.3,505.5 1365.8,505.4 1367.3,503.4 1368.8,495.5 1370.3,495.9 1371.8,493.9 1373.3,493.7 1374.8,489.9 1376.3,489.3 1377.8,487.1 1379.3,481.5 1380.8,480.4 1382.3,478.8 1383.8,474.8 1385.3,473.1 1386.8,470.0 1388.3,470.0 1389.8,466.9 1391.3,466.5 1392.8,464.4 1394.3,461.8 1395.8,459.8 1397.3,456.1 1398.8,456.9 1400.3,453.4 1401.8,449.9 1403.3,446.4 1404.8,445.1 1406.3,442.5 1407.8,442.8 1409.3,438.8 1410.8,434.9 1412.3,433.0 1413.8,430.3 1415.3,429.8 1416.8,428.9 1418.3,426.7 1419.8,423.9 1421.3,422.2 1422.8,421.5 1424.3,418.6 1425.8,415.9 1427.3,411.1 1428.8,410.4 1430.3,408.9 1431.8,408.8 1433.3,402.9 1434.8,402.2 1436.3,398.4 1437.8,395.5 1439.3,396.9 1440.8,392.5 1442.3,392.6 1443.8,389.7 1445.3,386.0 1446.8,388.3 1448.3,384.9 1449.8,380.5 1451.3,383.9 1452.8,384.1 1454.3,378.6 1455.8,377.6 1457.3,375.9 1458.8,373.0 1460.3,373.4 1461.8,369.3 1463.3,369.4 1464.8,371.6 1466.3,369.1 1467.8,367.3 1469.3,366.9 1470.8,365.3 1472.3,363.5 1473.8,362.7 1475.3,360.2 1476.8,358.4 1478.3,360.5 1479.8,357.9 1481.3,358.5 1482.8,358.5 1484.3,356.0 1485.8,354.9 1487.3,353.0 1488.8,351.9 1490.3,351.2 1491.8,350.1 1493.3,350.6 1494.8,348.2 1496.3,349.6 1497.8,346.3 1499.3,346.3 1500.8,345.9 1502.3,343.9 1503.8,344.1 1505.3,341.3 1506.8,342.4 1508.3,341.9 1509.8,340.8 1511.3,338.9 1512.8,340.5 1514.3,336.2 1515.8,336.8 1517.3,335.9 1518.8,336.3 1520.3,332.7 1521.8,332.4 1523.3,330.9 1524.8,328.2 1526.3,327.4 1527.8,329.4 1529.3,327.7 1530.8,325.8 1532.3,326.2 1533.8,324.3 1535.3,321.7 1536.8,320.4 1538.3,321.3 1539.8,317.5 1541.3,319.0 1542.8,317.9 1544.3,319.1 1545.8,317.9 1547.3,314.1 1548.8,313.5 1550.3,314.4 1551.8,311.4 1553.3,307.8 1554.8,307.0 1556.3,307.5 1557.8,304.4 1559.3,303.3 1560.8,303.0 1562.3,301.4 1563.8,301.5 1565.3,301.1 1566.8,297.1 1568.3,296.5 1569.8,293.0 1571.3,293.4 1572.8,289.4 1574.3,290.2 1575.8,289.5 1577.3,286.2 1578.8,284.4 1580.3,284.2 1581.8,282.5 1583.3,280.0 1584.8,280.3 1586.3,282.1 1587.8,279.9 1589.3,278.5 1590.8,276.5 1592.3,276.8 1593.8,273.7 1595.3,277.1 1596.8,275.3 1598.3,272.7 1599.8,272.8 1601.3,270.3 1602.8,268.8 1604.3,269.0 1605.8,269.6 1607.3,269.0 1608.8,268.0 1610.3,266.5 1611.8,267.9 1613.3,269.4 1614.8,265.1 1616.3,265.0 1617.8,264.1 1619.3,263.9 1620.8,260.6 1622.3,262.9 1623.8,259.6 1625.3,258.2 1626.8,259.4 1628.3,260.2 1629.8,257.6 1631.3,254.2 1632.8,256.3 1634.3,256.4 1635.8,253.7 1637.3,255.1 1638.8,253.0 1640.3,252.8 1641.8,252.0 1643.3,248.9 1644.8,248.0 1646.3,247.9 1647.8,246.9 1649.3,243.5 1650.8,242.8 1652.3,242.9 1653.8,242.5 1655.3,237.2 1656.8,238.2 1658.3,238.3 1659.8,237.3 1661.3,231.6 1662.8,230.4 1664.3,229.5 1665.8,228.8 1667.3,227.0 1668.8,224.9 1670.3,222.8 1671.8,221.4 1673.3,220.7 1674.8,220.7 1676.3,221.4 1677.8,218.5 1679.3,217.4 1680.8,215.2 1682.3,215.4 1683.8,211.8 1685.3,214.1 1686.8,213.8 1688.3,211.7 1689.8,211.0 1691.3,211.2 1692.8,210.4 1694.3,210.1 1695.8,210.2 1697.3,209.0 1698.8,207.9 1700.3,207.5 1701.8,205.0 1703.3,204.9 1704.8,205.5 1706.3,204.1 1707.8,201.7 1709.3,201.9 1710.8,197.7 1712.3,199.2 1713.8,196.9 1715.3,195.9 1716.8,195.5 1718.3,194.6 1719.8,190.7 1721.3,189.8 1722.8,188.9 1724.3,189.2 1725.8,188.5 1727.3,187.1 1728.8,183.9 1730.3,183.9 1731.8,182.6 1733.3,179.1 1734.8,178.0 1736.3,179.3 1737.8,176.2 1739.3,176.0 1740.8,173.2 1742.3,172.8 1743.8,171.3 1745.3,171.7 1746.8,169.9 1748.3,170.8 1749.8,167.5 1751.3,166.2 1752.8,163.8 1754.3,165.0 1755.8,163.3 1757.3,164.1 1758.8,161.8 1760.3,159.3 1761.8,159.8 1763.3,155.7 1764.8,160.5 1766.3,158.4 1767.8,158.6 1769.3,155.5 1770.8,158.1 1772.3,158.3 1773.8,155.4 1775.3,150.1 1776.8,153.1 1778.3,152.2 1779.8,151.1 1781.3,148.9 1782.8,149.8 1784.3,148.9 1785.8,145.4 1787.3,146.5 1788.8,145.8 1790.3,145.1 1791.8,145.6 1793.3,146.4 1794.8,145.7 1796.3,145.9 1797.8,144.2 1799.3,140.4 1800.8,144.1 1802.3,143.5 1803.8,144.0 1805.3,140.4 1806.8,140.9 1808.3,141.7 1809.8,141.1 1811.3,140.6 1812.8,140.5 1814.3,138.9 1815.8,140.4 1817.3,142.3 1818.8,142.7 1820.3,141.7 1821.8,141.3 1823.3,142.3 1824.8,142.2 1826.3,144.0 1827.8,144.1 1829.3,144.0 1830.8,143.0 1832.3,143.6 1833.8,146.5 1835.3,144.2 1836.8,144.3 1838.3,148.2 1839.8,143.8 1841.3,142.8 1842.8,145.6 1844.3,145.1 1845.8,147.6 1847.3,146.1 1848.8,148.4 1850.3,150.0 1851.8,150.3 1853.3,149.2 1854.8,152.5 1856.3,154.0 1857.8,155.2 1859.3,156.0 1860.8,153.5 1862.3,159.5 1863.8,159.5 1865.3,161.4 1866.8,159.8 1868.3,162.7 1869.8,164.0 1871.3,164.1 1872.8,166.3 1874.3,165.6 1875.8,169.4 1877.3,171.1 1878.8,171.3 1880.3,172.2 1881.8,170.0 1883.3,173.0 1884.8,174.7 1886.3,175.5 1887.8,176.8 1889.3,176.8 1890.8,179.1 1892.3,180.7 1893.8,181.2 1895.3,182.7 1896.8,184.8 1898.3,183.2 1899.8,183.8 1901.3,187.1 1902.8,188.5 1904.3,188.3 1905.8,193.0 1907.3,190.5 1908.8,192.0 1910.3,195.1 1911.8,196.2 1913.3,197.5 1914.8,198.8 1916.3,201.3 1917.8,202.4 1919.3,205.7 1920.8,207.5 1922.3,207.5 1923.8,209.3 1925.3,212.4 1926.8,215.3 1928.3,213.8 1929.8,220.4 1931.3,222.6 1932.8,223.2 1934.3,225.5 1935.8,232.4 1937.3,230.6 1938.8,232.9 1940.3,235.8 1941.8,239.5 1943.3,238.5 1944.8,244.2 1946.3,244.6 1947.8,245.9 1949.3,246.1 1950.8,252.8 1952.3,252.0 1953.8,254.2 1955.3,258.2 1956.8,256.8 1958.3,261.3 1959.8,262.0 1961.3,266.6 1962.8,268.3 1964.3,273.2 1965.8,273.9 1967.3,277.1 1968.8,278.5 1970.3,282.1 1971.8,284.4 1973.3,286.8 1974.8,292.3 1976.3,294.2 1977.8,297.2 1979.3,300.7 1980.8,302.2 1982.3,306.8 1983.8,309.2 1985.3,310.8 1986.8,314.7 1988.3,319.5 1989.8,321.6 1991.3,324.5 1992.8,328.1 1994.3,328.3 1995.8,334.6 1997.3,335.7 1998.8,338.9 2000.3,341.4 2001.8,342.8 2003.3,345.0 2004.8,349.8 2006.3,352.4 2007.8,356.6 2009.3,357.8 2010.8,359.5 2012.3,363.4 2013.8,363.8 2015.3,369.0 2016.8,370.2 2018.3,374.9 2019.8,375.5 2021.3,379.2 2022.8,382.9 2024.3,384.5 2025.8,387.6 2027.3,389.8 2028.8,392.7 2030.3,393.6 2031.8,398.4 2033.3,404.0 2034.8,401.6 2036.3,404.4 2037.8,407.9 2039.3,407.4 2040.8,409.6 2042.3,415.1 2043.8,416.6 2045.3,419.8 2046.8,422.5 2048.3,422.3 2049.8,425.2 2051.3,428.2 2052.8,429.8 2054.3,433.3 2055.8,436.1 2057.3,437.4 2058.8,436.9 2060.3,437.8 2061.8,442.2 2063.3,445.0 2064.8,446.6 2066.3,447.1 2067.8,452.0 2069.3,450.8 2070.8,454.2 2072.3,456.5"/>
</g>
<g class="tk">
<text class="n" transform="translate(1224.8,760) scale(0.936,1)" text-anchor="middle">0.00</text>
<text class="n" transform="translate(1436.7,760) scale(0.936,1)" text-anchor="middle">0.04</text>
<text class="n" transform="translate(1648.6,760) scale(0.936,1)" text-anchor="middle">0.08</text>
<text class="n" transform="translate(1860.5,760) scale(0.936,1)" text-anchor="middle">0.12</text>
<text class="n" transform="translate(2072.4,760) scale(0.936,1)" text-anchor="middle">0.16</text>
<text class="n" transform="translate(1212.7,727.9) scale(0.936,1)" text-anchor="end">0</text>
<text class="n" transform="translate(1212.7,558.3) scale(0.936,1)" text-anchor="end">1</text>
<text class="n" transform="translate(1212.7,388.8) scale(0.936,1)" text-anchor="end">2</text>
<text class="n" transform="translate(1212.7,219.2) scale(0.936,1)" text-anchor="end">3</text>
<text class="n" transform="translate(1212.7,49.7) scale(0.936,1)" text-anchor="end">4</text>
<text x="1647.5" y="830" text-anchor="middle">Strain</text>
<text transform="translate(1175.0,373.5) rotate(-90)" text-anchor="middle">Shear stress (GPa)</text>
</g>
<g class="lg">
<path d="M1243.9,74.0H1337.8" stroke="#b46be3" stroke-width="6.4" stroke-linecap="round" fill="none"/>
<text x="1348.0" y="88.4">Cu-unA</text>
<path d="M1243.9,125.8H1337.8" stroke="#474747" stroke-width="6.4" stroke-linecap="round" fill="none"/>
<text x="1348.0" y="140.2">Cu-A1</text>
<path d="M1243.9,177.5H1337.8" stroke="#f63a3e" stroke-width="6.4" stroke-linecap="round" fill="none"/>
<text x="1348.0" y="191.9">Cu-A2</text>
<path d="M1243.9,229.2H1337.8" stroke="#1766e0" stroke-width="6.4" stroke-linecap="round" fill="none"/>
<text x="1348.0" y="243.7">Cu-A3</text>
<path d="M1243.9,281.0H1337.8" stroke="#27a765" stroke-width="6.4" stroke-linecap="round" fill="none"/>
<text x="1348.0" y="295.4">Cu-A4</text>
</g>
<g class="cap"><text y="910"><tspan class="p" x="1594.3" y="909.6">(</tspan><tspan x="1614.0" y="910" font-weight="bold">b</tspan><tspan class="p" x="1649.0" y="909.6">)</tspan></text></g>
</svg>
</body>
</html>
